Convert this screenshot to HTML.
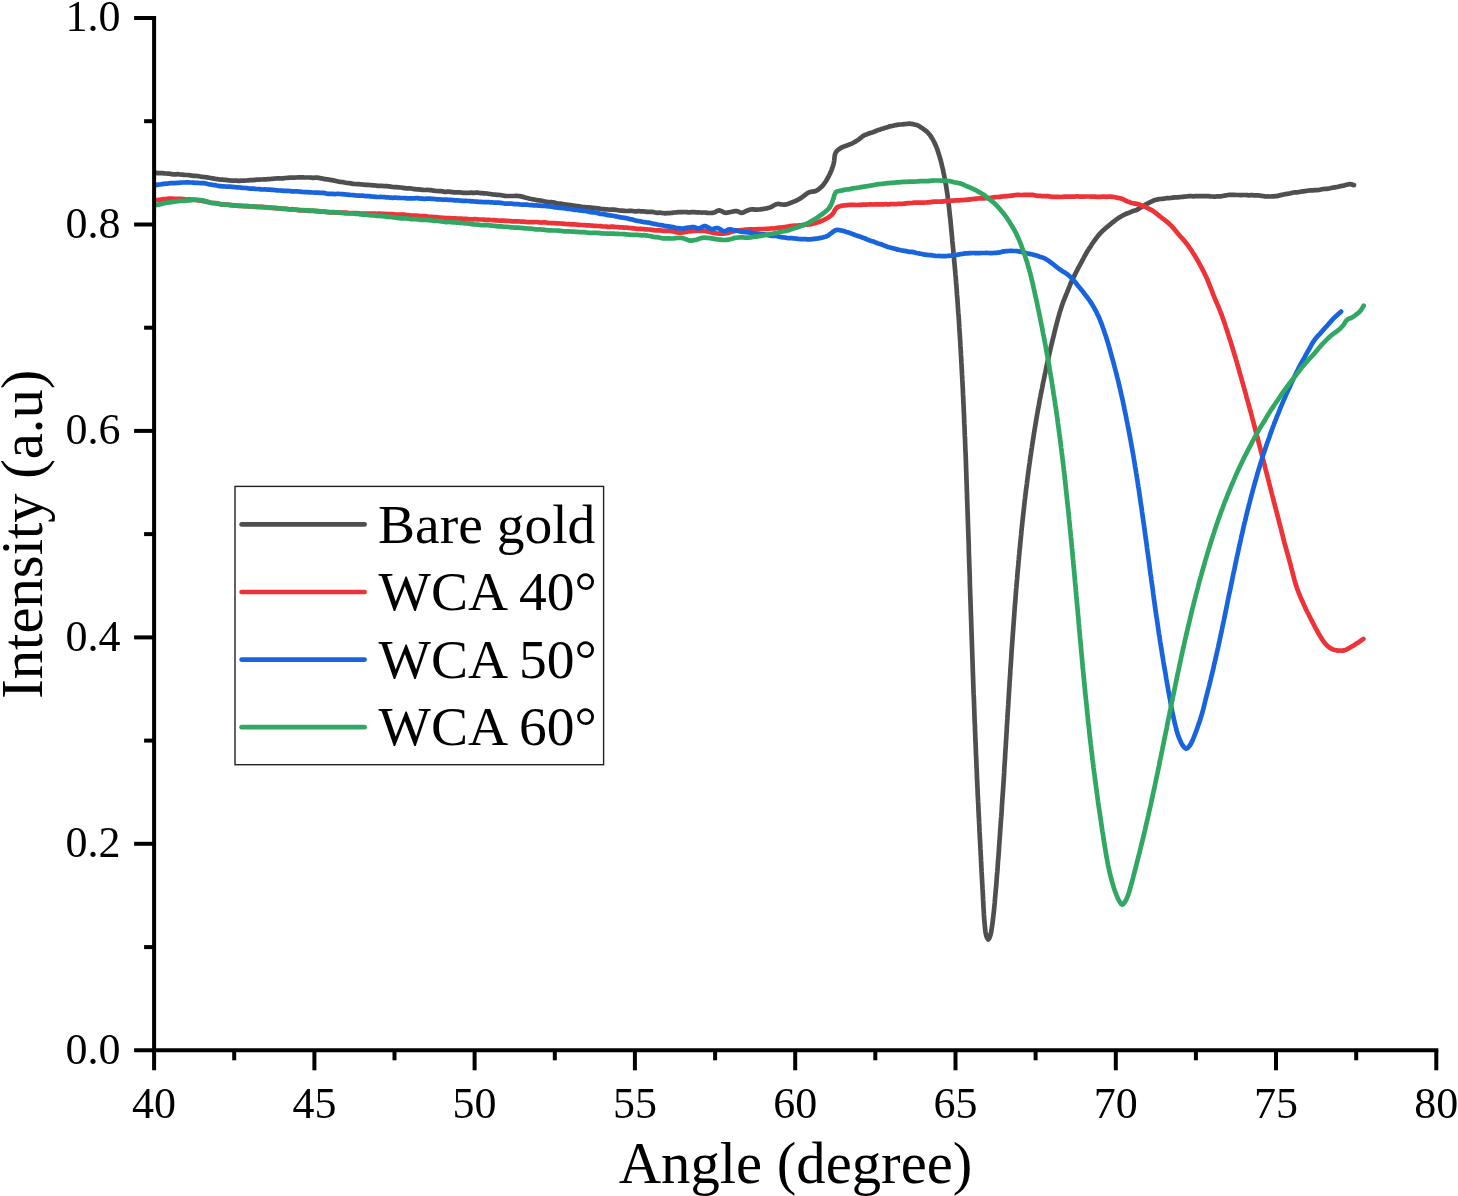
<!DOCTYPE html>
<html lang="en"><head><meta charset="utf-8"><title>SPR intensity vs angle</title>
<style>
html,body{margin:0;padding:0;background:#fff;}
body{width:1458px;height:1196px;overflow:hidden;}
svg{display:block;will-change:transform;}
text{font-family:"Liberation Serif",serif;fill:#000;}
.tk{font-size:44.0px;}
.ti{font-size:58.7px;}
.lg{font-size:55.5px;}
.ax{stroke:#000;stroke-width:4.0;fill:none;stroke-linecap:butt;}
.ln{fill:none;stroke-width:4.7;stroke-linecap:round;stroke-linejoin:round;}
</style></head><body>
<svg width="1458" height="1196" viewBox="0 0 1458 1196">
<rect width="1458" height="1196" fill="#fff"/>
<g class="ln">
<path stroke="#4f4f4f" d="M155.5 172.8L156.5 172.9L157.5 173.1L158.5 173.1L159.5 173.2L160.5 173.1L161.5 173.1L162.5 173.2L163.5 173.3L164.5 173.4L165.5 173.5L166.5 173.5L167.5 173.6L168.5 173.6L169.5 173.7L170.5 173.9L171.5 174.1L172.5 174.3L173.5 174.3L174.4 174.4L175.4 174.3L176.4 174.3L177.4 174.2L178.4 174.2L179.4 174.4L180.4 174.5L181.4 174.6L182.4 174.7L183.3 174.8L184.3 174.9L185.3 175.0L186.3 175.0L187.3 175.0L188.2 175.0L189.2 175.2L190.2 175.3L191.2 175.5L192.1 175.7L193.1 175.8L194.1 175.9L195.1 175.9L196.0 175.9L197.0 176.0L198.0 176.1L199.0 176.3L200.0 176.5L201.0 176.7L202.0 176.8L203.0 177.0L204.0 177.0L205.0 177.1L206.0 177.2L207.1 177.4L208.1 177.6L209.1 177.8L210.1 178.0L211.1 178.1L212.0 178.3L213.0 178.4L214.0 178.6L214.9 178.8L215.9 179.0L216.8 179.1L217.7 179.2L218.6 179.3L219.7 179.5L220.7 179.6L221.7 179.7L222.7 179.7L223.7 179.8L224.7 179.8L225.6 179.9L226.6 180.1L227.5 180.2L228.5 180.3L229.4 180.4L230.4 180.5L231.3 180.6L232.3 180.6L233.3 180.6L234.2 180.6L235.2 180.6L236.1 180.7L237.1 180.7L238.0 180.8L239.0 180.8L239.9 180.8L240.9 180.7L241.9 180.7L242.9 180.6L243.9 180.6L244.9 180.6L246.0 180.5L246.9 180.5L247.8 180.4L248.7 180.3L249.7 180.2L250.6 180.2L251.6 180.2L252.6 180.2L253.5 180.1L254.5 179.9L255.5 179.8L256.5 179.7L257.6 179.7L258.6 179.6L259.6 179.6L260.6 179.5L261.6 179.5L262.6 179.5L263.6 179.4L264.6 179.4L265.6 179.3L266.6 179.3L267.6 179.2L268.6 179.2L269.6 179.1L270.6 179.0L271.6 178.9L272.7 178.8L273.7 178.6L274.7 178.6L275.8 178.5L276.8 178.4L277.8 178.3L278.8 178.3L279.8 178.4L280.8 178.5L281.8 178.4L282.7 178.4L283.7 178.3L284.6 178.1L285.5 178.0L286.4 178.0L287.2 177.9L288.3 177.8L289.3 177.7L290.3 177.7L291.2 177.7L292.2 177.7L293.1 177.7L294.0 177.6L294.9 177.6L295.9 177.5L297.0 177.5L298.1 177.4L298.9 177.4L299.8 177.4L300.6 177.4L301.6 177.4L302.5 177.4L303.5 177.4L304.5 177.5L305.5 177.5L306.5 177.5L307.5 177.5L308.6 177.5L309.6 177.5L310.7 177.6L311.8 177.7L312.8 177.8L313.8 177.8L314.9 177.7L315.9 177.7L316.9 177.7L317.9 177.7L318.8 177.9L319.7 178.1L320.6 178.3L321.5 178.4L322.6 178.6L323.7 178.9L324.7 179.1L325.7 179.2L326.6 179.3L327.6 179.4L328.6 179.5L329.5 179.8L330.4 179.9L331.4 180.1L332.3 180.2L333.2 180.4L334.2 180.6L335.2 180.8L336.2 181.1L337.1 181.3L338.0 181.5L338.9 181.7L339.8 181.8L340.7 181.9L341.6 182.0L342.6 182.1L343.5 182.3L344.5 182.5L345.5 182.7L346.5 182.9L347.6 183.0L348.8 183.1L350.0 183.2L350.7 183.3L351.5 183.5L352.3 183.8L353.1 183.9L353.9 184.0L354.8 184.0L355.7 184.0L356.6 184.1L357.5 184.2L358.4 184.2L359.3 184.2L360.3 184.3L361.2 184.4L362.2 184.5L363.2 184.6L364.2 184.7L365.2 184.8L366.2 184.8L367.2 184.9L368.3 184.9L369.3 185.0L370.4 185.1L371.4 185.2L372.5 185.3L373.5 185.3L374.6 185.4L375.6 185.5L376.7 185.7L377.8 185.8L378.8 185.8L379.9 185.8L380.9 185.8L382.0 185.8L383.1 186.0L384.1 186.1L385.1 186.2L386.2 186.2L387.2 186.2L388.2 186.3L389.2 186.4L390.2 186.6L391.2 186.7L392.2 186.9L393.2 187.0L394.2 187.1L395.2 187.1L396.1 187.2L397.1 187.2L398.1 187.3L399.2 187.4L400.2 187.5L401.2 187.5L402.2 187.7L403.2 187.9L404.2 188.1L405.2 188.2L406.2 188.3L407.2 188.4L408.2 188.4L409.3 188.4L410.3 188.4L411.3 188.5L412.3 188.7L413.3 188.9L414.3 189.1L415.3 189.2L416.3 189.3L417.2 189.3L418.2 189.3L419.2 189.4L420.2 189.6L421.2 189.7L422.1 189.8L423.1 189.9L424.0 190.0L425.0 190.0L425.9 190.0L426.9 189.9L427.8 189.9L428.7 190.0L429.6 190.1L430.5 190.1L431.4 190.2L432.3 190.4L433.4 190.6L434.4 190.7L435.5 190.9L436.5 191.0L437.5 191.0L438.5 191.1L439.5 191.0L440.5 191.1L441.5 191.2L442.5 191.4L443.5 191.6L444.4 191.8L445.4 191.8L446.3 191.8L447.3 191.7L448.2 191.6L449.2 191.7L450.1 191.8L451.1 191.9L452.0 192.1L453.0 192.2L453.9 192.3L454.9 192.4L455.8 192.4L456.8 192.4L457.8 192.4L458.7 192.4L459.7 192.4L460.7 192.5L461.7 192.6L462.7 192.8L463.7 192.9L464.7 192.9L465.7 192.9L466.7 192.9L467.7 192.9L468.7 192.8L469.7 192.8L470.7 192.7L471.7 192.7L472.7 192.8L473.7 192.9L474.7 192.8L475.7 192.7L476.7 192.7L477.7 192.7L478.7 192.8L479.6 193.0L480.6 193.1L481.6 193.1L482.5 193.2L483.5 193.3L484.4 193.4L485.4 193.4L486.3 193.5L487.2 193.5L488.3 193.7L489.3 193.9L490.4 194.0L491.4 194.2L492.5 194.4L493.5 194.5L494.5 194.6L495.6 194.7L496.6 194.8L497.6 194.8L498.6 194.9L499.6 195.0L500.6 195.1L501.5 195.3L502.5 195.5L503.4 195.6L504.3 195.8L505.2 195.9L506.1 196.0L506.9 196.0L507.7 196.0L508.8 196.0L509.8 196.0L510.8 196.0L511.7 196.0L512.6 196.0L513.5 196.0L514.4 196.0L515.3 195.9L516.3 195.9L517.4 195.9L518.3 196.0L519.2 196.1L520.1 196.2L521.0 196.4L522.0 196.6L523.0 196.9L524.0 197.1L525.0 197.4L526.1 197.7L527.1 198.0L528.2 198.3L529.2 198.6L530.2 198.8L531.2 199.0L532.3 199.2L533.3 199.4L534.2 199.6L535.2 199.8L536.2 200.0L537.2 200.2L538.1 200.3L539.1 200.4L540.0 200.5L540.9 200.6L541.8 200.8L542.8 201.0L543.7 201.2L544.7 201.5L545.6 201.8L546.7 201.9L547.7 202.1L548.8 202.2L550.0 202.3L550.8 202.2L551.6 202.2L552.4 202.3L553.3 202.4L554.2 202.6L555.0 202.8L555.9 203.1L556.9 203.4L557.8 203.6L558.8 203.7L559.7 203.7L560.7 203.7L561.7 203.8L562.7 204.0L563.7 204.2L564.7 204.4L565.7 204.6L566.8 204.7L567.8 204.8L568.8 204.9L569.9 205.0L570.9 205.2L572.0 205.3L573.0 205.5L574.1 205.7L575.1 205.8L576.2 206.0L577.2 206.1L578.2 206.2L579.3 206.3L580.3 206.5L581.3 206.7L582.3 206.9L583.3 207.0L584.3 207.1L585.3 207.2L586.3 207.3L587.2 207.4L588.2 207.4L589.2 207.4L590.2 207.5L591.2 207.6L592.2 207.8L593.2 207.9L594.2 208.1L595.2 208.2L596.2 208.2L597.2 208.3L598.2 208.4L599.2 208.6L600.2 208.8L601.2 209.0L602.2 209.1L603.2 209.2L604.2 209.2L605.1 209.3L606.1 209.3L607.1 209.4L608.1 209.5L609.1 209.6L610.0 209.7L611.0 209.7L612.0 209.7L612.9 209.7L613.9 209.7L614.8 209.8L615.8 209.9L616.7 210.0L617.7 210.2L618.6 210.4L619.6 210.5L620.7 210.6L621.7 210.7L622.7 210.7L623.7 210.8L624.7 210.9L625.8 211.0L626.8 211.0L627.8 211.0L628.8 210.9L629.8 210.9L630.8 210.9L631.7 210.9L632.7 211.0L633.7 211.2L634.7 211.3L635.7 211.3L636.6 211.3L637.6 211.2L638.5 211.1L639.5 211.2L640.4 211.3L641.4 211.4L642.3 211.4L643.2 211.4L644.2 211.5L645.1 211.6L646.0 211.7L647.0 211.8L648.1 211.9L649.1 211.9L650.2 211.9L651.2 211.9L652.2 211.9L653.2 212.0L654.3 212.3L655.3 212.5L656.3 212.7L657.2 212.8L658.2 212.8L659.2 212.7L660.2 212.7L661.1 212.8L662.0 213.0L663.0 213.1L663.9 213.2L664.8 213.3L665.7 213.3L666.6 213.2L667.7 213.1L668.7 213.1L669.6 213.1L670.6 213.0L671.5 212.9L672.4 212.8L673.3 212.6L674.2 212.5L675.2 212.5L676.1 212.4L677.1 212.3L678.1 212.2L679.2 212.1L680.3 212.1L681.1 212.2L682.0 212.2L682.9 212.1L683.9 212.0L684.9 212.0L685.9 212.1L687.0 212.2L688.1 212.3L689.2 212.3L690.3 212.3L691.4 212.2L692.5 212.2L693.6 212.2L694.7 212.2L695.9 212.3L697.0 212.3L698.0 212.4L699.1 212.4L700.2 212.5L701.2 212.5L702.1 212.6L703.1 212.5L704.0 212.5L704.9 212.5L705.7 212.6L706.4 212.7L707.2 212.8L707.8 212.9L709.0 213.0L710.0 213.0L710.9 213.0L711.8 212.9L712.6 212.8L713.5 212.7L714.4 212.5L715.2 212.1L716.1 211.6L716.9 211.1L717.8 210.7L718.7 210.4L719.6 210.4L720.5 210.7L721.5 211.1L722.5 211.7L723.5 212.2L724.5 212.6L725.6 212.8L726.5 212.8L727.5 212.6L728.5 212.4L729.6 212.2L730.6 212.0L731.7 211.8L732.8 211.5L733.8 211.3L734.8 211.2L735.7 211.2L736.6 211.2L737.6 211.3L738.5 211.7L739.4 212.1L740.2 212.5L741.1 212.8L742.0 212.8L742.9 212.6L743.9 212.2L744.9 211.7L745.9 211.2L747.0 210.7L748.0 210.3L749.0 209.9L750.0 209.6L751.0 209.5L751.9 209.4L752.9 209.3L753.8 209.4L754.8 209.6L755.8 209.7L756.9 209.7L757.8 209.6L758.7 209.5L759.7 209.5L760.7 209.3L761.7 209.2L762.8 209.0L763.8 208.8L764.8 208.7L765.8 208.5L766.8 208.4L767.8 208.1L768.8 207.8L769.8 207.5L770.8 207.1L771.8 206.6L772.7 206.1L773.7 205.5L774.6 205.0L775.6 204.5L776.5 204.2L777.4 204.0L778.4 203.9L779.4 204.0L780.3 204.2L781.2 204.4L782.2 204.5L783.2 204.6L784.3 204.6L785.1 204.6L786.0 204.4L787.0 204.2L788.0 203.9L789.0 203.5L790.0 203.1L791.0 202.7L792.1 202.3L793.1 201.9L794.1 201.5L795.1 201.1L796.1 200.6L797.1 200.2L798.0 199.7L799.1 199.1L800.2 198.5L801.2 197.8L802.2 197.1L803.2 196.4L804.2 195.6L805.2 194.8L806.2 194.1L807.1 193.4L808.1 192.8L809.0 192.4L810.0 192.0L811.0 191.8L812.0 191.7L813.0 191.6L813.9 191.4L814.9 191.3L815.8 191.0L816.8 190.4L817.9 189.8L818.9 189.0L819.9 188.3L820.8 187.5L821.8 186.6L822.7 185.6L823.8 184.2L824.9 182.7L825.9 181.2L826.9 179.5L827.9 177.8L828.8 176.1L829.6 174.5L830.6 172.3L831.5 170.1L832.3 167.9L833.1 165.7L833.7 163.5L834.2 160.6L834.5 157.6L834.9 154.8L835.7 152.5L836.4 151.5L837.3 150.6L838.2 149.8L839.3 149.0L840.5 148.1L841.2 147.7L842.0 147.3L842.8 147.0L843.8 146.6L844.7 146.3L845.7 145.9L846.8 145.5L847.8 145.1L848.9 144.7L849.9 144.3L851.0 143.9L852.0 143.5L853.0 143.0L853.9 142.5L854.8 142.0L855.6 141.4L856.6 140.8L857.6 140.2L858.5 139.6L859.3 139.0L860.1 138.4L861.0 137.7L861.9 136.9L862.8 136.2L863.9 135.5L864.7 135.1L865.6 134.8L866.4 134.5L867.4 134.1L868.3 133.7L869.3 133.3L870.3 133.0L871.3 132.7L872.3 132.4L873.3 132.1L874.4 131.6L875.4 131.2L876.4 130.8L877.4 130.4L878.4 130.0L879.4 129.7L880.3 129.4L881.3 129.1L882.3 128.8L883.3 128.5L884.3 128.1L885.3 127.8L886.3 127.6L887.3 127.3L888.3 126.9L889.2 126.6L890.2 126.3L891.2 126.2L892.1 126.0L893.1 125.8L894.0 125.5L895.0 125.3L896.1 125.1L897.1 124.9L898.1 124.7L899.1 124.6L900.1 124.5L901.1 124.5L902.1 124.4L903.1 124.3L904.0 124.2L905.0 124.1L906.0 124.0L907.0 123.9L908.0 123.8L908.9 123.7L909.9 123.7L910.9 123.8L911.8 123.9L912.8 124.1L913.7 124.3L914.6 124.6L915.6 124.8L916.5 125.0L917.5 125.3L918.4 125.8L919.3 126.3L920.2 126.9L921.1 127.5L922.0 128.1L922.8 128.6L923.9 129.4L924.9 130.1L925.9 130.9L926.9 131.7L927.9 132.7L928.8 133.7L929.7 134.8L930.8 136.2L931.7 137.7L932.7 139.2L933.5 140.8L934.4 142.5L935.2 144.3L936.2 146.5L937.1 148.8L937.9 151.3L938.7 153.8L939.5 156.4L940.3 159.0L941.0 161.5L941.6 164.0L942.2 166.6L942.9 169.3L943.4 172.0L944.0 174.7L944.5 177.4L945.0 180.1L945.5 182.7L946.0 185.3L946.4 187.9L946.8 190.4L947.2 193.1L947.6 195.9L948.0 198.8L948.4 201.8L948.7 204.4L949.0 207.1L949.3 210.0L949.6 212.9L949.9 215.9L950.3 219.0L950.6 222.1L950.9 225.3L951.2 228.5L951.5 231.6L951.8 234.7L952.1 237.7L952.3 240.7L952.6 243.6L952.9 246.5L953.2 249.4L953.4 252.2L953.7 254.9L953.9 257.6L954.2 260.4L954.4 263.1L954.7 265.8L954.9 268.6L955.2 271.4L955.4 274.2L955.7 277.1L955.9 280.0L956.1 282.9L956.4 285.8L956.6 288.7L956.8 291.7L957.0 294.7L957.3 297.7L957.5 300.8L957.7 303.8L957.9 306.8L958.1 309.9L958.3 312.9L958.6 315.9L958.8 318.9L959.0 321.8L959.2 324.8L959.3 327.7L959.5 330.7L959.7 333.6L959.9 336.6L960.1 339.5L960.3 342.4L960.4 345.4L960.6 348.3L960.8 351.2L960.9 354.2L961.1 357.1L961.3 360.0L961.4 362.9L961.6 365.7L961.7 368.6L961.9 371.4L962.0 374.2L962.2 377.0L962.3 379.9L962.5 382.7L962.6 385.5L962.8 388.4L962.9 391.3L963.0 394.2L963.2 397.2L963.3 400.2L963.4 403.0L963.6 405.8L963.7 408.7L963.8 411.6L964.0 414.5L964.1 417.5L964.2 420.4L964.3 423.4L964.5 426.4L964.6 429.4L964.7 432.4L964.8 435.4L965.0 438.4L965.1 441.4L965.2 444.4L965.3 447.3L965.4 450.3L965.6 453.3L965.7 456.2L965.8 459.2L965.9 462.1L966.0 465.1L966.1 468.0L966.2 471.0L966.3 473.9L966.4 476.9L966.5 479.9L966.6 482.8L966.7 485.8L966.8 488.7L966.9 491.7L967.0 494.6L967.1 497.6L967.2 500.5L967.3 503.4L967.4 506.4L967.5 509.3L967.6 512.3L967.7 515.2L967.8 518.2L967.9 521.2L968.0 524.1L968.1 527.1L968.2 530.0L968.3 532.9L968.4 535.8L968.5 538.7L968.6 541.6L968.7 544.4L968.8 547.2L968.8 550.0L968.9 553.0L969.0 555.9L969.1 558.8L969.2 561.7L969.3 564.5L969.4 567.3L969.5 570.1L969.6 572.9L969.7 575.7L969.8 578.5L969.8 581.4L969.9 584.3L970.0 587.2L970.1 590.2L970.2 593.0L970.3 595.9L970.4 598.7L970.5 601.6L970.6 604.5L970.7 607.5L970.8 610.4L970.9 613.4L971.0 616.4L971.1 619.4L971.2 622.4L971.3 625.4L971.4 628.4L971.5 631.4L971.6 634.4L971.7 637.3L971.8 640.3L971.9 643.3L972.0 646.2L972.1 649.2L972.2 652.1L972.3 655.1L972.4 658.0L972.5 661.0L972.6 663.9L972.7 666.9L972.8 669.9L972.9 672.8L973.0 675.8L973.1 678.7L973.2 681.7L973.3 684.6L973.4 687.6L973.5 690.5L973.6 693.4L973.8 696.3L973.9 699.3L974.0 702.2L974.1 705.1L974.2 708.0L974.3 710.9L974.4 713.9L974.5 716.8L974.6 719.7L974.7 722.6L974.9 725.5L975.0 728.4L975.1 731.3L975.2 734.2L975.3 737.1L975.4 740.0L975.6 743.0L975.7 746.0L975.8 748.9L975.9 751.9L976.0 754.8L976.2 757.8L976.3 760.7L976.4 763.6L976.5 766.6L976.7 769.5L976.8 772.5L976.9 775.5L977.0 778.5L977.2 781.5L977.3 784.6L977.5 787.7L977.6 790.5L977.7 793.3L977.8 796.1L978.0 799.0L978.1 801.9L978.3 804.8L978.4 807.7L978.5 810.6L978.7 813.6L978.8 816.5L979.0 819.5L979.1 822.4L979.3 825.4L979.4 828.3L979.5 831.2L979.7 834.1L979.8 837.0L980.0 839.8L980.1 842.6L980.3 845.4L980.4 848.4L980.6 851.3L980.7 854.3L980.9 857.3L981.0 860.2L981.2 863.2L981.3 866.1L981.5 869.0L981.6 871.9L981.8 874.8L981.9 877.6L982.1 880.4L982.2 883.1L982.4 885.8L982.5 888.4L982.7 891.0L982.8 893.5L983.0 896.7L983.1 899.9L983.3 903.0L983.4 906.1L983.6 909.0L983.8 911.9L983.9 914.7L984.1 917.3L984.3 919.9L984.5 922.3L984.8 925.5L985.1 928.5L985.4 931.3L985.8 933.8L986.3 935.8L987.3 938.3L988.3 939.5L989.3 938.3L990.2 935.8L990.8 933.8L991.3 931.3L991.7 928.5L992.2 925.5L992.6 922.3L992.9 919.9L993.2 917.3L993.5 914.7L993.8 911.9L994.1 909.0L994.4 906.1L994.7 903.0L994.9 899.9L995.2 896.7L995.5 893.5L995.7 891.0L995.9 888.4L996.2 885.8L996.4 883.1L996.6 880.4L996.8 877.6L997.0 874.8L997.3 871.9L997.5 869.0L997.7 866.1L997.9 863.2L998.1 860.2L998.4 857.3L998.6 854.3L998.8 851.3L999.0 848.4L999.2 845.4L999.4 842.6L999.6 839.8L999.8 837.0L1000.0 834.1L1000.2 831.2L1000.4 828.3L1000.6 825.4L1000.8 822.5L1001.0 819.5L1001.3 816.5L1001.5 813.6L1001.7 810.6L1001.8 807.7L1002.0 804.8L1002.2 801.8L1002.4 799.0L1002.6 796.1L1002.8 793.3L1003.0 790.5L1003.2 787.7L1003.4 784.6L1003.6 781.5L1003.8 778.3L1004.0 775.3L1004.2 772.2L1004.3 769.1L1004.5 766.0L1004.7 763.0L1004.9 760.0L1005.1 757.0L1005.2 754.1L1005.4 751.2L1005.6 748.3L1005.8 745.5L1005.9 742.7L1006.1 740.0L1006.3 736.8L1006.5 733.7L1006.7 730.6L1006.8 727.6L1007.0 724.7L1007.2 721.8L1007.4 718.9L1007.5 716.0L1007.7 713.1L1007.9 710.2L1008.1 707.2L1008.3 704.4L1008.4 701.6L1008.6 698.9L1008.8 696.1L1008.9 693.3L1009.1 690.5L1009.3 687.7L1009.5 685.0L1009.6 682.2L1009.8 679.4L1010.0 676.6L1010.2 673.8L1010.3 671.0L1010.5 668.2L1010.7 665.4L1010.9 662.6L1011.1 659.8L1011.3 657.0L1011.4 654.3L1011.6 651.5L1011.8 648.7L1012.0 645.9L1012.2 643.1L1012.4 640.3L1012.6 637.5L1012.8 634.7L1013.0 631.9L1013.2 629.2L1013.4 626.4L1013.6 623.6L1013.8 620.8L1014.0 618.0L1014.2 615.3L1014.4 612.5L1014.6 609.7L1014.8 606.9L1015.0 604.1L1015.3 601.3L1015.5 598.5L1015.7 595.7L1015.9 592.9L1016.1 590.0L1016.4 587.2L1016.6 584.4L1016.8 581.7L1017.1 578.9L1017.3 576.1L1017.5 573.4L1017.8 570.6L1018.0 567.7L1018.3 564.9L1018.5 562.1L1018.8 559.2L1019.0 556.4L1019.3 553.7L1019.5 550.9L1019.8 548.2L1020.1 545.6L1020.3 543.0L1020.6 540.0L1020.9 537.1L1021.2 534.2L1021.4 531.4L1021.7 528.7L1022.0 525.8L1022.3 523.0L1022.6 520.0L1022.9 517.4L1023.2 514.7L1023.5 512.0L1023.8 509.3L1024.1 506.6L1024.4 503.8L1024.7 501.0L1025.1 498.1L1025.4 495.1L1025.8 492.1L1026.1 489.4L1026.5 486.6L1026.9 483.7L1027.2 480.8L1027.6 477.8L1028.0 474.8L1028.4 471.7L1028.8 468.7L1029.2 465.6L1029.7 462.5L1030.1 459.4L1030.5 456.4L1031.0 453.3L1031.4 450.3L1031.9 447.3L1032.3 444.3L1032.8 441.2L1033.3 438.2L1033.7 435.1L1034.2 432.1L1034.7 429.1L1035.2 426.1L1035.7 423.1L1036.2 420.1L1036.7 417.1L1037.2 414.2L1037.7 411.3L1038.2 408.5L1038.8 405.5L1039.3 402.6L1039.8 399.6L1040.4 396.7L1040.9 393.9L1041.5 391.0L1042.1 388.2L1042.6 385.5L1043.1 382.8L1043.7 380.2L1044.2 377.6L1044.7 375.1L1045.4 372.0L1046.0 369.0L1046.6 366.2L1047.2 363.4L1047.8 360.7L1048.4 357.9L1049.1 355.0L1049.7 352.2L1050.4 349.3L1051.1 346.3L1051.8 343.4L1052.5 340.5L1053.2 337.6L1053.9 334.9L1054.5 332.3L1055.2 329.4L1055.9 326.6L1056.6 324.0L1057.3 321.3L1058.0 318.6L1058.8 315.8L1059.6 312.9L1060.5 310.1L1061.4 307.3L1062.3 304.5L1063.1 302.2L1064.0 300.0L1064.9 297.7L1065.8 295.5L1066.7 293.4L1067.6 291.2L1068.5 288.9L1069.4 286.7L1070.3 284.4L1071.2 282.2L1072.3 279.8L1073.1 278.1L1074.0 276.4L1074.9 274.6L1075.8 272.8L1076.8 270.9L1077.7 269.0L1078.7 267.2L1079.7 265.4L1080.6 263.7L1081.6 261.9L1082.5 260.1L1083.5 258.3L1084.4 256.5L1085.4 254.8L1086.4 253.0L1087.4 251.2L1088.5 249.5L1089.4 248.1L1090.3 246.8L1091.2 245.4L1092.1 243.9L1093.1 242.5L1094.1 241.1L1095.1 239.8L1096.1 238.4L1097.1 237.1L1098.1 235.8L1099.0 234.7L1100.0 233.6L1100.9 232.6L1101.9 231.6L1102.8 230.7L1103.7 229.9L1104.7 229.1L1105.6 228.2L1106.5 227.4L1107.5 226.7L1108.4 225.9L1109.3 225.2L1110.2 224.4L1111.1 223.7L1111.9 223.0L1112.8 222.2L1113.8 221.5L1114.7 220.8L1115.7 220.0L1116.7 219.2L1117.6 218.6L1118.5 218.0L1119.4 217.4L1120.4 216.9L1121.4 216.3L1122.4 215.7L1123.5 215.2L1124.5 214.6L1125.5 214.1L1126.5 213.7L1127.5 213.3L1128.4 213.0L1129.3 212.6L1130.3 212.2L1131.2 211.8L1132.2 211.4L1133.1 211.1L1134.0 210.8L1134.9 210.5L1135.8 210.3L1136.7 209.9L1137.6 209.5L1138.5 208.9L1139.5 208.3L1140.4 207.8L1141.3 207.3L1142.3 206.7L1143.2 206.1L1144.1 205.6L1145.1 204.9L1146.0 204.3L1146.9 203.8L1147.8 203.4L1148.7 202.9L1149.7 202.5L1150.6 202.0L1151.5 201.5L1152.4 201.1L1153.4 200.6L1154.3 200.3L1155.2 200.0L1156.1 199.8L1157.0 199.6L1157.9 199.3L1158.8 199.2L1159.8 199.0L1160.7 199.0L1161.7 198.9L1162.7 198.8L1163.6 198.7L1164.5 198.5L1165.4 198.4L1166.3 198.2L1167.3 198.2L1168.2 198.2L1169.2 198.1L1170.2 198.0L1171.2 197.9L1172.2 197.7L1173.2 197.6L1174.3 197.4L1175.3 197.3L1176.2 197.3L1177.2 197.3L1178.1 197.3L1179.1 197.2L1180.0 197.1L1181.0 197.0L1182.0 196.9L1183.0 196.8L1184.0 196.7L1185.0 196.6L1186.0 196.5L1187.0 196.4L1188.0 196.2L1189.0 196.2L1190.0 196.2L1191.0 196.2L1192.0 196.2L1193.0 196.3L1194.0 196.3L1195.0 196.2L1196.1 196.1L1197.1 196.1L1198.2 196.1L1199.3 196.1L1200.3 196.2L1201.3 196.2L1202.4 196.2L1203.4 196.2L1204.3 196.2L1205.3 196.2L1206.2 196.2L1207.1 196.2L1207.9 196.2L1208.7 196.2L1209.8 196.3L1210.7 196.4L1211.6 196.5L1212.4 196.5L1213.3 196.6L1214.2 196.6L1215.3 196.6L1216.1 196.5L1217.0 196.4L1217.8 196.3L1218.8 196.3L1219.7 196.3L1220.7 196.3L1221.6 196.2L1222.7 196.0L1223.7 195.8L1224.8 195.6L1225.8 195.4L1226.9 195.2L1228.0 195.0L1229.2 194.9L1230.3 194.9L1231.2 194.9L1232.1 194.8L1233.0 194.8L1233.9 194.8L1234.9 194.9L1235.9 195.0L1236.9 195.0L1237.9 195.0L1238.9 195.0L1240.0 195.1L1241.0 195.1L1242.1 195.1L1243.2 195.0L1244.2 195.0L1245.3 195.0L1246.4 195.1L1247.4 195.2L1248.5 195.3L1249.5 195.3L1250.5 195.2L1251.5 195.2L1252.5 195.2L1253.5 195.3L1254.4 195.4L1255.3 195.4L1256.2 195.4L1257.1 195.4L1258.2 195.4L1259.3 195.5L1260.4 195.7L1261.4 195.8L1262.4 196.0L1263.3 196.1L1264.3 196.3L1265.3 196.4L1266.2 196.5L1267.2 196.5L1268.1 196.4L1269.1 196.5L1270.1 196.5L1271.1 196.5L1272.1 196.4L1273.0 196.3L1274.0 196.3L1274.9 196.2L1275.9 196.2L1276.8 196.1L1277.8 195.9L1278.8 195.6L1279.8 195.4L1280.7 195.1L1281.7 194.9L1282.7 194.7L1283.7 194.6L1284.7 194.3L1285.7 194.1L1286.6 193.9L1287.6 193.8L1288.6 193.7L1289.5 193.5L1290.5 193.3L1291.5 193.0L1292.5 192.7L1293.5 192.5L1294.5 192.4L1295.5 192.4L1296.4 192.4L1297.4 192.3L1298.4 192.1L1299.4 192.0L1300.4 191.8L1301.3 191.6L1302.3 191.4L1303.3 191.3L1304.3 191.2L1305.2 191.1L1306.2 191.0L1307.2 190.8L1308.2 190.6L1309.2 190.5L1310.1 190.4L1311.1 190.4L1312.1 190.4L1313.1 190.3L1314.1 190.2L1315.1 190.2L1316.0 190.1L1317.0 190.1L1318.0 190.0L1319.0 189.9L1320.0 189.7L1321.0 189.5L1321.9 189.3L1322.9 189.1L1323.9 189.0L1324.9 188.9L1325.9 188.9L1326.9 188.8L1328.0 188.7L1329.0 188.5L1330.1 188.3L1331.1 188.0L1332.2 187.8L1333.2 187.6L1334.2 187.4L1335.2 187.3L1336.2 187.2L1337.2 187.0L1338.1 186.8L1339.0 186.6L1339.9 186.3L1340.7 186.1L1341.8 185.9L1342.8 185.8L1343.8 185.6L1344.7 185.3L1345.6 185.0L1346.5 184.8L1347.4 184.5L1348.2 184.4L1349.0 184.2L1350.1 184.2L1351.1 184.3L1352.1 184.6L1353.0 184.9L1354.0 185.1"/>
<path stroke="#ee3338" d="M155.5 200.2L156.4 200.2L157.4 200.1L158.3 200.0L159.3 199.8L160.2 199.7L161.2 199.5L162.1 199.3L163.1 199.2L164.0 199.1L165.0 199.0L165.9 199.0L166.9 198.9L167.8 198.8L168.7 198.7L169.7 198.7L170.6 198.6L171.6 198.7L172.6 198.7L173.6 198.8L174.5 198.8L175.5 198.8L176.5 198.8L177.4 198.8L178.4 198.8L179.4 198.8L180.4 198.8L181.3 198.9L182.3 199.0L183.3 199.1L184.3 199.2L185.2 199.4L186.2 199.5L187.1 199.5L188.1 199.4L189.0 199.4L190.0 199.4L190.9 199.5L191.9 199.5L192.9 199.6L193.8 199.7L194.8 199.7L195.7 199.9L196.7 200.0L197.6 200.2L198.5 200.4L199.4 200.4L200.4 200.5L201.3 200.7L202.3 200.9L203.2 201.1L204.1 201.2L205.0 201.4L205.9 201.6L206.8 201.8L207.7 202.1L208.7 202.3L209.6 202.5L210.7 202.7L211.7 202.9L212.6 203.0L213.4 203.0L214.3 203.0L215.2 203.0L216.2 203.2L217.1 203.3L218.1 203.5L219.0 203.8L220.0 204.0L221.0 204.2L222.0 204.3L223.0 204.5L224.0 204.5L225.0 204.5L226.0 204.6L227.1 204.7L228.1 204.7L229.2 204.8L230.2 205.0L231.2 205.1L232.3 205.2L233.2 205.3L234.1 205.3L235.1 205.4L236.0 205.5L237.0 205.7L237.9 205.8L238.9 205.8L239.8 205.8L240.8 205.8L241.8 205.9L242.8 206.0L243.8 206.1L244.8 206.2L245.7 206.2L246.7 206.2L247.7 206.2L248.7 206.2L249.7 206.3L250.8 206.4L251.8 206.5L252.8 206.6L253.8 206.7L254.8 206.8L255.7 206.8L256.7 206.8L257.7 206.8L258.7 206.8L259.7 206.7L260.7 206.8L261.7 206.8L262.6 206.9L263.6 207.0L264.6 207.0L265.5 207.2L266.5 207.3L267.5 207.5L268.4 207.5L269.4 207.6L270.4 207.7L271.3 207.7L272.3 207.9L273.3 208.0L274.2 208.1L275.2 208.2L276.2 208.3L277.2 208.4L278.1 208.5L279.1 208.5L280.1 208.6L281.1 208.7L282.1 208.8L283.1 208.9L284.1 208.9L285.1 208.8L286.2 208.9L287.2 209.0L288.1 209.1L289.1 209.3L290.0 209.3L291.0 209.3L291.9 209.2L292.9 209.3L293.9 209.4L294.8 209.5L295.8 209.7L296.8 210.0L297.8 210.1L298.8 210.2L299.8 210.3L300.8 210.3L301.8 210.3L302.8 210.3L303.8 210.4L304.8 210.4L305.8 210.5L306.8 210.6L307.8 210.7L308.8 210.9L309.8 210.9L310.8 210.9L311.8 210.8L312.8 210.9L313.8 211.0L314.8 211.1L315.8 211.2L316.7 211.2L317.7 211.3L318.7 211.4L319.6 211.4L320.6 211.4L321.5 211.4L322.5 211.5L323.5 211.5L324.5 211.6L325.5 211.7L326.5 211.9L327.5 212.1L328.4 212.2L329.4 212.3L330.4 212.4L331.3 212.4L332.3 212.4L333.2 212.3L334.2 212.4L335.1 212.5L336.1 212.6L337.0 212.7L338.0 212.7L338.9 212.7L339.9 212.7L340.9 212.7L341.8 212.7L342.8 212.6L343.8 212.6L344.8 212.5L345.8 212.6L346.8 212.7L347.9 212.9L348.9 213.0L350.0 213.1L350.9 213.1L351.8 213.1L352.7 213.2L353.6 213.2L354.6 213.2L355.5 213.2L356.4 213.2L357.4 213.2L358.3 213.3L359.3 213.4L360.3 213.5L361.2 213.6L362.2 213.6L363.2 213.5L364.2 213.5L365.1 213.6L366.1 213.6L367.1 213.5L368.1 213.6L369.1 213.6L370.1 213.7L371.1 213.7L372.1 213.6L373.2 213.6L374.2 213.7L375.2 213.7L376.2 213.8L377.2 213.8L378.2 213.7L379.2 213.6L380.2 213.7L381.2 213.8L382.2 213.8L383.2 213.8L384.3 213.8L385.3 213.9L386.3 214.0L387.2 214.1L388.2 214.2L389.2 214.2L390.2 214.2L391.2 214.2L392.2 214.2L393.2 214.3L394.1 214.4L395.1 214.5L396.1 214.6L397.1 214.6L398.1 214.6L399.0 214.6L400.0 214.7L401.0 214.7L402.0 214.6L402.9 214.6L403.9 214.7L404.9 214.7L405.9 214.9L406.9 215.0L407.8 215.1L408.8 215.3L409.8 215.4L410.8 215.5L411.8 215.6L412.7 215.6L413.7 215.6L414.7 215.6L415.7 215.6L416.6 215.7L417.6 215.8L418.6 215.9L419.6 216.0L420.6 216.1L421.5 216.2L422.5 216.2L423.5 216.2L424.5 216.2L425.4 216.3L426.4 216.4L427.4 216.6L428.4 216.8L429.4 216.9L430.3 216.9L431.3 216.9L432.3 216.9L433.3 217.0L434.3 217.0L435.2 217.1L436.2 217.1L437.2 217.3L438.2 217.4L439.2 217.5L440.1 217.6L441.1 217.7L442.1 217.8L443.1 217.9L444.1 217.9L445.0 218.0L446.0 218.1L447.0 218.0L448.0 218.1L449.0 218.2L450.0 218.2L450.9 218.3L451.9 218.4L452.9 218.4L453.9 218.4L454.9 218.4L455.8 218.4L456.8 218.5L457.8 218.5L458.8 218.5L459.8 218.6L460.7 218.6L461.7 218.7L462.7 218.8L463.7 218.8L464.7 218.8L465.7 218.9L466.6 218.9L467.6 219.0L468.6 219.2L469.6 219.3L470.6 219.4L471.5 219.4L472.5 219.3L473.5 219.3L474.5 219.2L475.5 219.2L476.4 219.3L477.4 219.4L478.4 219.5L479.4 219.5L480.4 219.5L481.4 219.5L482.4 219.5L483.4 219.6L484.3 219.7L485.3 219.8L486.3 219.9L487.3 219.8L488.3 219.8L489.3 219.9L490.3 220.0L491.3 220.0L492.3 220.1L493.3 220.2L494.2 220.2L495.2 220.3L496.2 220.4L497.2 220.5L498.2 220.6L499.2 220.6L500.1 220.7L501.1 220.6L502.1 220.7L503.1 220.7L504.1 220.7L505.0 220.8L506.0 220.8L507.0 220.9L507.9 220.9L508.9 221.0L509.8 221.1L510.8 221.2L511.8 221.3L512.7 221.3L513.7 221.3L514.6 221.4L515.6 221.3L516.6 221.3L517.6 221.3L518.7 221.4L519.7 221.5L520.7 221.6L521.7 221.6L522.7 221.7L523.6 221.7L524.6 221.8L525.6 221.9L526.6 222.0L527.6 222.1L528.6 222.1L529.6 222.1L530.5 222.1L531.5 222.1L532.5 222.2L533.5 222.1L534.5 222.0L535.4 222.0L536.4 222.0L537.4 222.0L538.3 222.2L539.3 222.3L540.3 222.5L541.3 222.6L542.2 222.5L543.2 222.4L544.2 222.4L545.1 222.4L546.1 222.5L547.1 222.7L548.1 222.9L549.0 223.0L550.0 223.0L551.0 223.1L552.0 223.0L553.0 223.1L553.9 223.1L554.9 223.2L555.9 223.3L556.9 223.3L557.9 223.4L558.9 223.4L559.8 223.5L560.8 223.5L561.8 223.6L562.8 223.7L563.8 223.8L564.7 223.9L565.7 224.0L566.7 224.0L567.7 224.1L568.7 224.1L569.6 224.2L570.6 224.3L571.6 224.3L572.6 224.3L573.5 224.3L574.5 224.4L575.5 224.5L576.5 224.6L577.4 224.7L578.4 224.8L579.4 224.9L580.4 225.0L581.4 225.0L582.3 225.0L583.3 225.0L584.3 225.1L585.3 225.2L586.3 225.3L587.3 225.3L588.2 225.4L589.2 225.4L590.2 225.5L591.2 225.6L592.2 225.6L593.2 225.8L594.2 225.8L595.2 225.9L596.2 225.9L597.2 226.0L598.2 226.0L599.2 226.0L600.2 226.1L601.2 226.2L602.2 226.4L603.2 226.5L604.2 226.5L605.2 226.5L606.1 226.6L607.1 226.7L608.1 226.8L609.1 226.8L610.1 226.8L611.0 226.7L612.0 226.7L612.9 226.7L613.9 226.8L614.9 226.9L615.8 227.0L616.7 227.0L617.7 227.1L618.6 227.2L619.6 227.3L620.7 227.3L621.7 227.3L622.7 227.4L623.7 227.6L624.7 227.6L625.8 227.7L626.8 227.7L627.8 227.8L628.8 227.9L629.8 228.0L630.8 228.1L631.8 228.2L632.7 228.3L633.7 228.4L634.7 228.5L635.7 228.6L636.6 228.7L637.6 228.9L638.5 228.9L639.5 228.9L640.4 228.9L641.4 228.9L642.3 229.0L643.2 229.1L644.2 229.2L645.1 229.3L646.0 229.3L647.0 229.4L648.1 229.5L649.1 229.5L650.2 229.6L651.2 229.8L652.2 229.9L653.2 230.1L654.3 230.2L655.3 230.3L656.3 230.3L657.2 230.3L658.2 230.3L659.2 230.3L660.2 230.4L661.1 230.5L662.0 230.6L663.0 230.8L663.9 230.9L664.8 230.9L665.7 230.9L666.6 230.8L667.7 230.8L668.7 230.9L669.7 231.0L670.7 231.1L671.7 231.2L672.7 231.4L673.6 231.5L674.6 231.7L675.5 232.0L676.5 232.2L677.4 232.5L678.4 232.6L679.3 232.6L680.3 232.6L681.3 232.6L682.3 232.5L683.3 232.4L684.3 232.2L685.3 232.0L686.3 231.8L687.3 231.7L688.3 231.5L689.3 231.4L690.3 231.3L691.2 231.2L692.2 231.2L693.1 231.1L694.0 231.0L695.0 230.9L696.0 230.8L697.0 230.7L697.9 230.7L698.9 230.8L699.8 230.8L700.7 230.8L701.7 230.8L702.6 230.8L703.6 230.9L704.6 231.0L705.6 231.2L706.5 231.3L707.5 231.4L708.6 231.6L709.6 231.9L710.6 232.1L711.6 232.4L712.6 232.7L713.6 233.0L714.6 233.1L715.6 233.2L716.6 233.4L717.6 233.5L718.6 233.6L719.6 233.6L720.7 233.7L721.7 233.7L722.7 233.6L723.7 233.6L724.6 233.5L725.6 233.4L726.6 233.2L727.5 233.0L728.5 232.7L729.4 232.4L730.3 232.1L731.2 231.8L732.2 231.6L733.1 231.4L734.2 231.2L735.2 231.0L736.1 230.8L737.0 230.6L737.9 230.4L738.8 230.4L739.8 230.3L740.8 230.2L741.7 230.1L742.7 230.0L743.7 229.9L744.8 229.7L745.8 229.6L746.8 229.5L747.9 229.5L748.9 229.4L750.0 229.4L750.9 229.3L751.8 229.4L752.8 229.4L753.7 229.4L754.7 229.4L755.6 229.3L756.6 229.3L757.6 229.2L758.6 229.2L759.6 229.1L760.6 229.0L761.6 229.0L762.6 229.0L763.6 229.0L764.6 229.0L765.6 228.9L766.6 228.9L767.6 228.9L768.6 228.8L769.6 228.6L770.6 228.5L771.6 228.4L772.6 228.5L773.5 228.5L774.5 228.4L775.5 228.2L776.5 228.0L777.5 227.8L778.5 227.7L779.4 227.6L780.4 227.6L781.4 227.5L782.4 227.4L783.4 227.3L784.3 227.1L785.3 227.0L786.3 226.8L787.3 226.7L788.3 226.5L789.2 226.3L790.2 226.1L791.2 226.0L792.2 225.8L793.2 225.8L794.2 225.7L795.2 225.7L796.2 225.8L797.2 225.7L798.2 225.6L799.2 225.4L800.2 225.4L801.2 225.3L802.2 225.2L803.2 225.1L804.2 224.9L805.2 224.8L806.2 224.7L807.1 224.6L808.1 224.4L809.0 224.3L809.9 224.3L810.8 224.2L811.7 224.1L812.8 223.8L813.9 223.4L814.9 223.1L816.0 222.9L817.0 222.6L818.1 222.3L819.1 221.9L820.1 221.5L821.0 221.1L822.0 220.8L822.9 220.4L823.7 220.0L824.6 219.5L825.4 219.1L826.6 218.5L827.7 217.9L828.7 217.2L829.7 216.5L830.6 215.8L831.5 215.1L832.3 214.4L833.2 213.2L834.0 211.8L834.8 210.5L835.5 209.2L836.4 208.1L837.1 207.5L837.8 207.0L838.5 206.7L839.4 206.4L840.5 206.1L841.1 205.9L841.7 205.8L842.4 205.7L843.1 205.5L843.9 205.4L844.7 205.4L845.6 205.3L846.5 205.2L847.5 205.1L848.4 205.0L849.5 204.9L850.5 204.9L851.5 204.8L852.6 204.8L853.7 204.8L854.8 204.9L855.9 205.0L857.0 205.0L858.1 205.0L859.2 204.9L860.3 204.8L861.4 204.8L862.5 204.7L863.5 204.7L864.6 204.6L865.6 204.6L866.6 204.6L867.6 204.5L868.5 204.5L869.5 204.4L870.5 204.4L871.5 204.4L872.4 204.5L873.4 204.5L874.4 204.4L875.4 204.4L876.3 204.4L877.3 204.4L878.3 204.4L879.3 204.4L880.3 204.3L881.2 204.3L882.2 204.3L883.2 204.3L884.2 204.3L885.2 204.2L886.1 204.2L887.1 204.3L888.1 204.3L889.1 204.3L890.1 204.2L891.1 204.1L892.0 204.0L893.0 204.0L894.0 204.1L895.0 204.1L896.0 204.1L896.9 204.0L897.9 203.9L898.9 203.8L899.9 203.8L900.9 203.8L901.8 203.8L902.8 203.8L903.8 203.7L904.8 203.6L905.8 203.4L906.7 203.3L907.7 203.2L908.7 203.1L909.7 203.1L910.7 203.0L911.6 203.0L912.6 202.9L913.6 202.7L914.6 202.7L915.6 202.7L916.6 202.7L917.5 202.6L918.5 202.6L919.5 202.6L920.5 202.6L921.5 202.6L922.5 202.7L923.4 202.6L924.4 202.6L925.4 202.5L926.3 202.5L927.3 202.4L928.3 202.4L929.2 202.3L930.2 202.2L931.1 202.1L932.1 201.9L933.1 201.7L934.0 201.6L935.0 201.6L936.0 201.6L936.9 201.7L937.9 201.7L938.9 201.7L939.9 201.7L940.9 201.7L941.9 201.6L942.9 201.4L943.9 201.3L944.9 201.2L945.9 201.1L946.9 201.0L947.9 201.0L949.0 200.9L950.0 200.9L950.9 200.8L951.9 200.7L952.8 200.6L953.8 200.6L954.7 200.5L955.7 200.4L956.7 200.4L957.7 200.3L958.6 200.3L959.6 200.3L960.6 200.2L961.6 200.2L962.6 200.1L963.6 200.0L964.6 199.9L965.6 199.8L966.6 199.8L967.7 199.7L968.7 199.6L969.7 199.4L970.7 199.3L971.7 199.2L972.7 199.0L973.8 198.9L974.8 198.8L975.8 198.7L976.8 198.6L977.8 198.5L978.8 198.4L979.9 198.4L980.9 198.4L981.9 198.4L982.9 198.3L983.9 198.3L984.9 198.2L985.9 198.2L986.9 198.2L987.9 198.1L988.9 198.1L989.9 198.0L990.9 197.8L991.9 197.7L992.9 197.5L993.9 197.3L994.9 197.2L995.9 197.1L996.9 197.0L998.0 197.0L999.0 196.9L1000.0 196.8L1001.0 196.7L1002.0 196.6L1003.0 196.5L1004.0 196.3L1005.0 196.2L1006.0 196.2L1007.0 196.1L1008.0 196.0L1009.0 195.9L1010.0 195.8L1011.0 195.7L1012.0 195.6L1013.0 195.4L1014.0 195.3L1015.0 195.1L1016.0 195.0L1017.0 194.9L1017.9 194.9L1018.9 194.9L1019.9 195.0L1020.8 195.0L1021.8 195.0L1022.8 195.0L1023.7 194.9L1024.7 194.9L1025.7 194.9L1026.7 194.8L1027.7 194.8L1028.7 194.8L1029.7 194.8L1030.7 194.8L1031.6 194.8L1032.6 194.9L1033.6 195.1L1034.5 195.3L1035.5 195.5L1036.5 195.7L1037.4 195.8L1038.4 195.8L1039.3 195.8L1040.3 195.9L1041.2 196.0L1042.2 196.1L1043.1 196.2L1044.1 196.2L1045.0 196.2L1046.0 196.2L1047.0 196.2L1047.9 196.2L1048.9 196.3L1049.9 196.5L1050.8 196.7L1051.8 196.8L1052.8 196.8L1053.8 196.8L1054.8 196.8L1055.7 196.8L1056.7 196.8L1057.7 196.9L1058.8 196.9L1059.8 197.0L1060.8 197.0L1061.9 196.9L1062.9 196.8L1064.0 196.7L1065.0 196.6L1066.1 196.6L1067.2 196.7L1068.2 196.7L1069.3 196.7L1070.3 196.7L1071.4 196.6L1072.4 196.6L1073.5 196.6L1074.5 196.6L1075.5 196.5L1076.5 196.4L1077.5 196.4L1078.5 196.5L1079.4 196.6L1080.4 196.6L1081.3 196.6L1082.2 196.6L1083.1 196.6L1084.0 196.6L1084.8 196.5L1085.6 196.5L1086.4 196.5L1087.2 196.5L1088.4 196.5L1089.5 196.5L1090.6 196.6L1091.6 196.6L1092.6 196.6L1093.6 196.6L1094.5 196.7L1095.5 196.7L1096.4 196.8L1097.3 196.8L1098.2 196.8L1099.1 196.9L1100.0 196.9L1101.0 196.8L1102.1 196.7L1103.1 196.7L1104.1 196.6L1105.1 196.7L1106.0 196.8L1107.0 196.8L1108.0 196.7L1109.0 196.7L1110.0 196.7L1111.0 196.7L1112.0 196.8L1113.0 196.9L1114.0 197.0L1115.0 197.2L1116.0 197.4L1117.0 197.7L1118.0 197.9L1119.0 198.1L1120.0 198.3L1120.9 198.5L1121.9 198.8L1122.9 199.2L1123.8 199.6L1124.7 200.1L1125.6 200.6L1126.5 201.0L1127.4 201.4L1128.4 201.7L1129.3 202.1L1130.2 202.4L1131.1 202.7L1132.1 203.0L1133.0 203.2L1133.9 203.4L1134.8 203.6L1135.8 203.7L1136.7 203.9L1137.6 204.1L1138.5 204.3L1139.5 204.6L1140.4 205.0L1141.4 205.4L1142.3 205.8L1143.2 206.1L1144.2 206.4L1145.1 206.8L1146.0 207.1L1146.9 207.6L1147.9 208.1L1148.8 208.7L1149.7 209.2L1150.7 209.7L1151.6 210.1L1152.5 210.6L1153.4 211.2L1154.3 211.9L1155.3 212.6L1156.2 213.4L1157.1 214.1L1158.1 214.9L1159.0 215.6L1159.9 216.3L1160.8 217.0L1161.8 217.8L1162.7 218.5L1163.6 219.2L1164.6 220.0L1165.5 220.7L1166.5 221.5L1167.4 222.3L1168.4 223.0L1169.3 223.9L1170.2 224.7L1171.1 225.6L1172.1 226.6L1173.0 227.6L1173.9 228.6L1174.8 229.7L1175.8 230.9L1176.7 232.0L1177.6 233.2L1178.5 234.3L1179.4 235.3L1180.3 236.4L1181.3 237.4L1182.3 238.5L1183.2 239.6L1184.2 240.7L1185.1 241.8L1186.0 242.9L1186.9 244.1L1187.8 245.2L1188.8 246.7L1189.8 248.1L1190.8 249.5L1191.8 250.9L1192.7 252.4L1193.6 253.8L1194.5 255.2L1195.5 256.9L1196.5 258.5L1197.4 260.1L1198.4 261.8L1199.3 263.5L1200.3 265.3L1201.3 267.1L1202.2 268.9L1203.2 270.8L1204.2 272.7L1205.1 274.7L1206.1 276.7L1207.0 278.7L1208.0 281.0L1208.9 283.3L1209.8 285.6L1210.7 288.0L1211.7 290.4L1212.6 292.9L1213.6 295.5L1214.5 297.7L1215.4 299.9L1216.3 302.0L1217.3 304.3L1218.3 306.5L1219.2 308.7L1220.1 311.0L1221.0 313.3L1221.9 315.5L1222.9 318.4L1223.9 321.2L1224.9 324.1L1225.8 327.0L1226.8 329.9L1227.7 332.8L1228.6 335.6L1229.4 338.3L1230.3 340.8L1231.1 343.4L1231.9 346.0L1232.7 348.6L1233.5 351.2L1234.3 354.0L1235.2 356.7L1236.0 359.6L1236.9 362.5L1237.7 365.5L1238.6 368.5L1239.4 371.5L1240.2 374.4L1241.1 377.4L1241.9 380.3L1242.7 383.1L1243.5 386.0L1244.3 388.9L1245.1 391.7L1245.9 394.5L1246.6 397.3L1247.4 400.0L1248.2 402.7L1248.9 405.5L1249.6 408.2L1250.4 410.8L1251.1 413.5L1251.8 416.1L1252.4 418.6L1253.2 421.4L1253.9 424.1L1254.6 426.7L1255.3 429.4L1256.0 432.3L1256.7 434.8L1257.4 437.4L1258.1 440.1L1258.8 442.8L1259.5 445.7L1260.3 448.5L1261.0 451.5L1261.7 454.2L1262.4 456.9L1263.2 459.8L1263.9 462.7L1264.7 465.7L1265.4 468.6L1266.2 471.6L1267.0 474.6L1267.7 477.5L1268.5 480.4L1269.2 483.4L1270.0 486.5L1270.8 489.5L1271.5 492.5L1272.3 495.5L1273.1 498.4L1273.8 501.3L1274.6 504.3L1275.3 507.1L1276.1 510.2L1276.9 513.2L1277.7 516.2L1278.4 519.2L1279.2 522.2L1279.9 525.0L1280.7 527.8L1281.4 530.6L1282.1 533.5L1282.8 536.3L1283.5 539.1L1284.2 541.8L1284.9 544.4L1285.6 547.0L1286.3 549.5L1287.0 552.0L1287.7 554.4L1288.4 556.9L1289.1 559.5L1289.8 562.2L1290.6 564.9L1291.3 567.8L1292.1 570.8L1292.9 573.9L1293.7 577.0L1294.5 580.1L1295.4 583.2L1296.3 586.0L1297.1 588.5L1298.0 590.8L1298.9 593.1L1299.8 595.3L1300.7 597.6L1301.7 599.8L1302.7 602.0L1303.7 604.3L1304.6 606.2L1305.4 608.1L1306.3 610.0L1307.2 611.8L1308.2 613.6L1309.1 615.5L1310.1 617.4L1311.0 619.2L1312.0 621.1L1312.9 622.9L1313.8 624.6L1314.7 626.3L1315.6 628.1L1316.5 629.8L1317.5 631.5L1318.4 633.2L1319.3 634.8L1320.2 636.3L1321.2 637.8L1322.1 639.3L1323.0 640.6L1323.9 641.9L1324.8 643.0L1325.6 644.0L1326.5 645.0L1327.5 645.9L1328.4 646.7L1329.4 647.5L1330.3 648.1L1331.2 648.6L1332.1 649.1L1333.0 649.4L1334.0 649.7L1334.9 650.0L1335.9 650.2L1336.8 650.4L1337.7 650.6L1338.6 650.6L1339.5 650.5L1340.4 650.5L1341.3 650.6L1342.2 650.6L1343.2 650.6L1344.1 650.4L1345.0 650.2L1345.9 649.8L1346.8 649.4L1347.7 648.8L1348.7 648.3L1349.6 647.8L1350.5 647.2L1351.4 646.7L1352.4 646.2L1353.3 645.7L1354.2 645.1L1355.1 644.5L1356.0 643.8L1357.0 643.2L1357.9 642.7L1358.8 642.1L1359.7 641.5L1360.6 640.8L1361.6 640.2L1362.5 639.5L1363.4 638.9"/>
<path stroke="#1764dc" d="M155.5 185.1L156.5 184.9L157.5 184.8L158.4 184.6L159.4 184.5L160.4 184.5L161.3 184.3L162.3 184.1L163.3 183.9L164.4 183.8L165.4 183.7L166.5 183.7L167.4 183.6L168.3 183.5L169.2 183.3L170.1 183.2L171.1 183.2L172.0 183.2L173.0 183.2L174.0 183.2L175.0 183.1L176.0 183.0L177.0 182.9L178.0 182.9L179.0 182.8L180.0 182.6L180.9 182.6L181.9 182.5L182.9 182.5L183.9 182.5L184.8 182.5L185.8 182.4L186.8 182.4L187.7 182.4L188.7 182.4L189.6 182.5L190.6 182.5L191.6 182.5L192.5 182.6L193.5 182.7L194.5 182.8L195.4 182.9L196.4 182.9L197.4 182.9L198.4 182.9L199.4 183.0L200.3 183.1L201.2 183.1L202.2 183.1L203.1 183.1L204.0 183.2L205.0 183.3L205.9 183.5L206.8 183.7L207.8 184.0L208.7 184.2L209.6 184.4L210.6 184.5L211.6 184.7L212.5 184.8L213.5 185.0L214.5 185.1L215.5 185.2L216.5 185.5L217.6 185.7L218.6 185.9L219.5 186.1L220.4 186.2L221.3 186.2L222.2 186.3L223.1 186.3L224.0 186.4L225.0 186.5L225.9 186.5L226.8 186.6L227.8 186.7L228.7 186.7L229.7 186.7L230.7 186.7L231.6 186.8L232.6 186.9L233.6 187.0L234.6 187.1L235.6 187.2L236.6 187.3L237.6 187.4L238.6 187.4L239.7 187.5L240.7 187.6L241.7 187.8L242.8 187.9L243.9 188.0L244.9 188.0L246.0 188.0L246.9 188.1L247.8 188.3L248.7 188.5L249.6 188.6L250.5 188.7L251.5 188.7L252.4 188.7L253.4 188.6L254.3 188.7L255.3 188.9L256.3 189.0L257.3 189.0L258.3 189.0L259.3 189.1L260.2 189.3L261.3 189.4L262.3 189.5L263.3 189.5L264.3 189.4L265.3 189.4L266.3 189.5L267.3 189.6L268.3 189.7L269.4 189.7L270.4 189.7L271.4 189.8L272.4 189.8L273.4 189.9L274.4 190.0L275.5 190.2L276.5 190.3L277.5 190.4L278.5 190.5L279.5 190.5L280.5 190.5L281.4 190.6L282.4 190.7L283.4 190.8L284.4 190.8L285.3 190.8L286.3 190.8L287.2 190.8L288.2 190.9L289.2 191.0L290.3 191.1L291.3 191.3L292.3 191.4L293.3 191.4L294.3 191.4L295.3 191.3L296.3 191.3L297.3 191.3L298.3 191.5L299.3 191.6L300.3 191.7L301.3 191.8L302.3 191.9L303.3 192.0L304.3 192.1L305.2 192.0L306.2 192.1L307.2 192.1L308.2 192.2L309.1 192.3L310.1 192.3L311.1 192.4L312.0 192.5L313.0 192.5L313.9 192.5L314.9 192.6L315.8 192.6L316.8 192.6L317.7 192.7L318.7 192.7L319.6 192.8L320.6 192.8L321.5 192.8L322.5 192.9L323.5 192.9L324.5 193.1L325.5 193.3L326.5 193.6L327.5 193.8L328.4 193.9L329.4 193.9L330.4 193.8L331.3 193.8L332.3 193.8L333.2 193.9L334.2 194.1L335.1 194.1L336.1 194.0L337.0 193.9L338.0 193.9L338.9 193.9L339.9 194.0L340.9 194.1L341.8 194.1L342.8 194.2L343.8 194.3L344.8 194.4L345.8 194.5L346.8 194.6L347.9 194.7L348.9 194.8L350.0 194.9L350.9 195.0L351.8 195.0L352.7 195.1L353.6 195.2L354.6 195.3L355.5 195.4L356.4 195.5L357.4 195.6L358.3 195.7L359.3 195.7L360.3 195.7L361.2 195.6L362.2 195.6L363.2 195.7L364.2 195.9L365.1 196.0L366.1 196.1L367.1 196.1L368.1 196.1L369.1 196.2L370.1 196.3L371.1 196.4L372.1 196.5L373.1 196.6L374.2 196.7L375.2 196.8L376.2 196.9L377.2 197.0L378.2 197.0L379.2 197.0L380.2 196.9L381.2 196.9L382.2 197.0L383.2 197.0L384.2 197.1L385.2 197.2L386.2 197.3L387.2 197.4L388.2 197.4L389.2 197.5L390.2 197.6L391.2 197.7L392.2 197.8L393.2 197.8L394.1 197.7L395.1 197.7L396.1 197.7L397.1 197.8L398.1 197.8L399.0 197.9L400.0 198.0L401.0 198.0L402.0 198.0L402.9 198.0L403.9 198.0L404.9 198.1L405.9 198.2L406.9 198.3L407.8 198.3L408.8 198.3L409.8 198.4L410.8 198.4L411.7 198.4L412.7 198.3L413.7 198.3L414.7 198.3L415.7 198.2L416.6 198.2L417.6 198.2L418.6 198.3L419.6 198.4L420.6 198.6L421.5 198.7L422.5 198.7L423.5 198.8L424.5 198.8L425.4 198.8L426.4 198.7L427.4 198.6L428.4 198.6L429.4 198.7L430.3 198.7L431.3 198.8L432.3 198.9L433.3 198.9L434.3 199.0L435.2 199.1L436.2 199.3L437.2 199.4L438.2 199.4L439.2 199.4L440.1 199.4L441.1 199.5L442.1 199.6L443.1 199.6L444.1 199.6L445.1 199.6L446.0 199.7L447.0 199.7L448.0 199.8L449.0 199.9L450.0 199.9L450.9 199.9L451.9 200.0L452.9 200.1L453.9 200.2L454.9 200.3L455.8 200.4L456.8 200.4L457.8 200.4L458.8 200.5L459.8 200.6L460.8 200.7L461.7 200.8L462.7 200.9L463.7 200.9L464.7 200.9L465.7 200.9L466.6 200.9L467.6 201.0L468.6 201.0L469.6 201.1L470.6 201.2L471.5 201.3L472.5 201.4L473.5 201.4L474.5 201.5L475.5 201.6L476.4 201.7L477.4 201.7L478.4 201.8L479.4 201.8L480.4 201.9L481.4 201.9L482.4 202.0L483.4 202.1L484.3 202.1L485.3 202.1L486.3 202.1L487.3 202.2L488.3 202.2L489.3 202.2L490.3 202.3L491.3 202.3L492.3 202.4L493.3 202.5L494.2 202.6L495.2 202.7L496.2 202.6L497.2 202.6L498.2 202.6L499.2 202.7L500.2 202.8L501.1 202.9L502.1 203.1L503.1 203.3L504.1 203.5L505.0 203.6L506.0 203.6L507.0 203.6L507.9 203.6L508.9 203.7L509.8 203.7L510.8 203.7L511.8 203.7L512.7 203.8L513.7 204.0L514.6 204.1L515.6 204.2L516.6 204.2L517.6 204.2L518.7 204.2L519.7 204.4L520.7 204.5L521.7 204.6L522.7 204.7L523.7 204.7L524.6 204.7L525.6 204.7L526.6 204.7L527.6 204.7L528.6 204.9L529.6 205.0L530.6 205.1L531.5 205.2L532.5 205.2L533.5 205.3L534.5 205.3L535.4 205.4L536.4 205.4L537.4 205.5L538.3 205.6L539.3 205.6L540.3 205.7L541.3 205.8L542.2 205.8L543.2 205.9L544.2 206.0L545.1 206.0L546.1 206.1L547.1 206.2L548.1 206.3L549.0 206.3L550.0 206.5L551.0 206.6L552.0 206.8L553.0 207.0L553.9 207.2L554.9 207.3L555.9 207.4L556.9 207.5L557.9 207.6L558.9 207.8L559.8 207.9L560.8 208.0L561.8 208.0L562.8 208.1L563.8 208.2L564.8 208.3L565.7 208.5L566.7 208.7L567.7 208.9L568.7 209.0L569.6 209.0L570.6 209.1L571.6 209.3L572.6 209.5L573.5 209.7L574.5 209.8L575.5 209.8L576.5 209.9L577.5 210.0L578.4 210.2L579.4 210.4L580.4 210.5L581.4 210.6L582.3 210.7L583.3 210.8L584.3 210.9L585.3 211.0L586.3 211.1L587.3 211.3L588.2 211.6L589.2 211.9L590.2 212.1L591.2 212.2L592.2 212.3L593.2 212.4L594.2 212.4L595.2 212.5L596.2 212.6L597.2 212.9L598.2 213.2L599.2 213.6L600.2 213.9L601.2 214.0L602.2 214.0L603.2 214.1L604.2 214.2L605.2 214.4L606.2 214.7L607.1 214.9L608.1 215.1L609.1 215.3L610.1 215.4L611.0 215.5L612.0 215.6L613.0 215.8L613.9 216.0L614.9 216.2L615.8 216.3L616.7 216.5L617.7 216.7L618.6 216.9L619.6 217.2L620.7 217.3L621.7 217.5L622.7 217.6L623.7 217.8L624.8 217.9L625.8 218.1L626.8 218.3L627.8 218.6L628.8 218.9L629.8 219.1L630.8 219.3L631.8 219.4L632.7 219.6L633.7 219.9L634.7 220.2L635.7 220.5L636.6 220.7L637.6 220.9L638.5 221.0L639.5 221.2L640.4 221.3L641.4 221.6L642.3 221.8L643.2 222.0L644.2 222.1L645.1 222.2L646.0 222.3L647.0 222.5L648.1 222.6L649.1 222.7L650.2 222.9L651.2 223.2L652.2 223.5L653.2 223.7L654.2 223.9L655.2 224.1L656.2 224.3L657.2 224.5L658.2 224.7L659.2 224.9L660.1 225.0L661.1 225.1L662.0 225.2L663.0 225.4L663.9 225.7L664.8 226.0L665.7 226.1L666.6 226.2L667.7 226.3L668.7 226.4L669.7 226.6L670.7 226.8L671.7 226.9L672.7 227.1L673.7 227.3L674.6 227.6L675.6 227.9L676.5 228.0L677.5 228.2L678.4 228.2L679.3 228.3L680.3 228.4L681.3 228.5L682.3 228.5L683.3 228.5L684.3 228.3L685.3 228.1L686.4 227.9L687.4 227.7L688.3 227.6L689.3 227.5L690.2 227.4L691.1 227.2L691.9 227.1L692.7 227.1L693.7 227.1L694.6 227.3L695.5 227.6L696.3 227.9L697.2 228.2L698.1 228.3L699.0 228.3L700.0 228.0L701.0 227.6L702.0 227.0L703.0 226.6L704.0 226.2L705.0 226.1L706.0 226.3L707.0 226.8L708.0 227.3L709.0 227.9L710.0 228.5L710.9 229.0L711.9 229.2L712.8 229.1L713.8 228.8L714.7 228.5L715.6 228.2L716.5 228.0L717.4 228.0L718.4 228.2L719.3 228.7L720.3 229.3L721.3 230.0L722.3 230.6L723.3 231.0L724.2 231.2L725.1 231.2L726.0 230.8L726.8 230.4L727.7 229.9L728.7 229.5L729.7 229.3L730.5 229.4L731.3 229.5L732.3 229.8L733.2 230.1L734.2 230.3L735.2 230.4L736.2 230.5L737.2 230.7L738.2 230.9L739.2 231.2L740.2 231.5L741.1 231.7L742.0 231.8L743.1 231.9L744.0 232.0L745.0 232.1L745.9 232.1L746.8 232.2L747.8 232.3L748.8 232.4L750.0 232.6L750.8 232.7L751.6 232.9L752.4 233.1L753.3 233.3L754.2 233.4L755.2 233.5L756.2 233.6L757.1 233.7L758.2 233.8L759.2 233.9L760.2 234.0L761.3 234.0L762.3 234.1L763.4 234.3L764.4 234.4L765.5 234.6L766.5 234.8L767.6 235.1L768.6 235.3L769.6 235.6L770.6 235.7L771.6 235.8L772.6 235.8L773.5 235.8L774.5 235.9L775.5 235.9L776.5 236.0L777.5 236.2L778.4 236.5L779.4 236.8L780.4 237.0L781.4 237.2L782.4 237.3L783.3 237.4L784.3 237.5L785.3 237.6L786.3 237.8L787.3 238.0L788.3 238.2L789.2 238.2L790.2 238.2L791.2 238.2L792.2 238.2L793.2 238.3L794.2 238.4L795.2 238.5L796.1 238.6L797.1 238.7L798.2 238.9L799.2 239.0L800.2 239.1L801.2 239.1L802.1 239.2L803.1 239.2L804.1 239.2L805.1 239.2L806.1 239.2L807.0 239.3L808.0 239.3L808.9 239.3L809.9 239.3L810.8 239.3L811.7 239.2L812.7 239.1L813.7 238.9L814.8 238.8L815.8 238.7L816.8 238.6L817.8 238.5L818.8 238.3L819.7 238.1L820.7 237.9L821.6 237.7L822.6 237.5L823.5 237.2L824.3 237.0L825.2 236.8L826.0 236.6L826.8 236.3L827.9 235.7L828.9 235.0L829.9 234.2L830.8 233.5L831.7 232.8L832.6 232.1L833.4 231.5L834.2 231.0L835.0 230.5L835.9 230.1L836.6 229.9L837.4 229.9L838.2 230.0L839.2 230.1L839.9 230.2L840.7 230.4L841.6 230.5L842.5 230.7L843.4 230.9L844.4 231.3L845.4 231.6L846.4 232.0L847.5 232.3L848.6 232.6L849.7 232.9L850.7 233.3L851.8 233.7L852.9 234.1L853.8 234.5L854.7 234.8L855.6 235.2L856.6 235.6L857.5 235.9L858.5 236.1L859.5 236.4L860.5 236.7L861.4 237.1L862.4 237.6L863.4 237.9L864.5 238.3L865.5 238.7L866.5 239.2L867.5 239.6L868.5 240.0L869.5 240.4L870.5 240.8L871.5 241.1L872.5 241.3L873.5 241.6L874.5 242.0L875.4 242.4L876.4 242.8L877.4 243.2L878.4 243.5L879.3 243.7L880.3 244.0L881.3 244.3L882.3 244.7L883.2 245.1L884.2 245.5L885.2 245.9L886.2 246.3L887.1 246.7L888.1 247.0L889.1 247.3L890.1 247.5L891.1 247.8L892.0 248.0L893.0 248.3L894.0 248.6L895.0 248.8L896.0 249.1L896.9 249.4L897.9 249.6L898.9 249.8L899.9 250.0L900.9 250.3L901.9 250.5L902.9 250.6L903.9 250.8L904.9 250.9L905.9 251.1L906.9 251.3L907.8 251.6L908.8 251.8L909.8 251.9L910.8 251.9L911.7 251.9L912.7 252.1L913.7 252.2L914.6 252.4L915.6 252.7L916.6 253.0L917.6 253.2L918.7 253.4L919.7 253.6L920.7 253.8L921.7 254.0L922.7 254.2L923.7 254.4L924.7 254.6L925.7 254.7L926.7 254.9L927.6 254.9L928.5 255.0L929.4 255.1L930.3 255.1L931.2 255.2L932.0 255.3L933.1 255.5L934.2 255.7L935.2 255.8L936.1 256.0L937.1 256.0L938.0 256.0L939.0 255.9L940.0 256.0L941.0 256.1L941.9 256.2L942.9 256.2L943.8 256.2L944.8 256.2L945.8 256.1L946.8 256.0L947.8 255.9L948.8 255.8L949.8 255.8L950.9 255.6L952.0 255.5L952.8 255.4L953.7 255.2L954.6 255.1L955.5 255.0L956.4 254.9L957.3 254.8L958.2 254.6L959.2 254.4L960.1 254.2L961.1 254.1L962.1 254.0L963.1 253.8L964.1 253.6L965.1 253.4L966.1 253.3L967.1 253.3L968.1 253.3L969.2 253.2L970.2 253.1L971.1 253.1L972.0 253.0L973.0 253.0L973.9 253.0L974.9 253.1L975.9 253.1L976.9 253.1L977.9 253.1L979.0 253.1L980.0 253.1L981.0 253.0L982.1 253.0L983.1 253.0L984.1 253.0L985.1 253.0L986.2 252.9L987.2 252.9L988.1 253.0L989.1 253.0L990.1 253.1L991.0 253.1L991.9 253.1L992.8 253.0L993.7 253.0L994.5 252.9L995.3 252.9L996.4 252.8L997.5 252.7L998.6 252.6L999.6 252.4L1000.6 252.2L1001.6 251.9L1002.5 251.6L1003.4 251.4L1004.3 251.3L1005.2 251.3L1006.1 251.1L1007.0 251.1L1008.0 251.0L1008.9 251.0L1009.8 250.9L1010.7 250.8L1011.6 250.8L1012.4 250.9L1013.4 251.0L1014.3 251.0L1015.3 251.0L1016.2 251.0L1017.0 251.1L1017.9 251.2L1018.9 251.4L1019.8 251.6L1020.8 251.8L1021.7 252.0L1022.7 252.2L1023.7 252.4L1024.7 252.7L1025.7 253.0L1026.7 253.3L1027.7 253.5L1028.7 253.7L1029.6 253.9L1030.6 254.1L1031.6 254.3L1032.6 254.5L1033.6 254.8L1034.6 255.1L1035.6 255.3L1036.6 255.6L1037.6 255.9L1038.7 256.3L1039.7 256.7L1040.7 257.0L1041.6 257.3L1042.6 257.6L1043.6 257.9L1044.5 258.3L1045.4 258.8L1046.4 259.4L1047.5 260.1L1048.5 260.7L1049.5 261.4L1050.4 262.2L1051.4 262.9L1052.3 263.6L1053.3 264.3L1054.2 265.0L1055.1 265.8L1056.0 266.6L1057.0 267.3L1057.9 268.0L1058.8 268.7L1059.8 269.4L1060.8 270.1L1061.8 270.8L1062.8 271.4L1063.8 272.0L1064.8 272.6L1065.8 273.2L1066.8 273.9L1067.7 274.6L1068.7 275.4L1069.6 276.2L1070.5 277.0L1071.6 278.1L1072.6 279.2L1073.7 280.4L1074.7 281.6L1075.7 282.7L1076.6 283.9L1077.6 285.2L1078.6 286.4L1079.5 287.5L1080.5 288.6L1081.4 289.8L1082.4 291.0L1083.3 292.2L1084.3 293.5L1085.2 294.8L1086.2 296.0L1087.1 297.2L1088.0 298.4L1088.9 299.6L1089.8 300.8L1090.6 302.1L1091.6 303.6L1092.6 305.2L1093.6 306.9L1094.5 308.5L1095.5 310.3L1096.4 312.0L1097.2 313.8L1098.1 315.5L1098.9 317.3L1100.0 319.8L1101.0 322.4L1102.0 325.0L1102.9 327.7L1103.9 330.4L1104.7 333.0L1105.6 335.6L1106.5 338.3L1107.3 340.9L1108.1 343.5L1108.9 346.2L1109.7 349.0L1110.5 352.0L1111.2 354.5L1111.9 357.1L1112.7 359.9L1113.5 362.7L1114.2 365.6L1115.0 368.5L1115.8 371.5L1116.6 374.5L1117.3 377.5L1118.1 380.5L1118.8 383.4L1119.4 386.2L1120.1 388.9L1120.7 391.7L1121.3 394.5L1122.0 397.3L1122.6 400.1L1123.2 402.9L1123.8 405.7L1124.3 408.5L1124.9 411.3L1125.5 414.1L1126.1 416.9L1126.6 419.7L1127.2 422.5L1127.7 425.2L1128.3 428.0L1128.8 430.8L1129.3 433.6L1129.9 436.4L1130.4 439.2L1130.9 442.0L1131.4 444.8L1131.9 447.5L1132.4 450.3L1132.9 453.1L1133.4 455.9L1133.8 458.7L1134.3 461.5L1134.8 464.3L1135.2 467.1L1135.7 469.9L1136.1 472.6L1136.6 475.4L1137.0 478.2L1137.5 481.0L1137.9 483.8L1138.3 486.6L1138.8 489.4L1139.2 492.2L1139.6 495.1L1140.0 497.9L1140.4 500.7L1140.8 503.5L1141.3 506.3L1141.7 509.1L1142.0 511.8L1142.4 514.5L1142.8 517.2L1143.2 520.1L1143.6 522.9L1144.0 525.7L1144.4 528.4L1144.8 531.2L1145.1 533.9L1145.5 536.6L1145.9 539.4L1146.3 542.2L1146.7 545.0L1147.0 547.8L1147.4 550.6L1147.8 553.5L1148.2 556.3L1148.6 559.2L1149.0 562.1L1149.4 565.0L1149.7 567.9L1150.1 570.9L1150.5 573.8L1151.0 576.8L1151.3 579.5L1151.7 582.3L1152.1 585.1L1152.5 587.9L1152.9 590.8L1153.2 593.6L1153.6 596.5L1154.0 599.3L1154.4 602.2L1154.8 605.1L1155.2 607.9L1155.6 610.8L1156.0 613.6L1156.4 616.4L1156.9 619.3L1157.3 622.1L1157.7 624.9L1158.1 627.7L1158.5 630.5L1158.9 633.3L1159.4 636.2L1159.8 639.0L1160.2 641.8L1160.7 644.7L1161.1 647.5L1161.6 650.3L1162.0 653.2L1162.5 656.0L1163.0 658.9L1163.4 661.8L1163.9 664.6L1164.4 667.5L1164.9 670.4L1165.4 673.2L1165.9 676.1L1166.3 678.9L1166.8 681.7L1167.3 684.4L1167.8 687.1L1168.3 690.2L1168.9 693.3L1169.4 696.4L1170.0 699.4L1170.5 702.4L1171.0 705.4L1171.6 708.3L1172.1 711.1L1172.7 713.9L1173.3 716.6L1174.0 719.7L1174.7 722.9L1175.5 726.0L1176.2 729.0L1177.0 731.8L1177.8 734.4L1178.6 736.8L1179.5 738.9L1180.4 741.1L1181.3 743.0L1182.2 744.7L1183.2 746.1L1184.0 747.0L1184.7 747.8L1185.5 748.4L1186.3 748.6L1187.1 748.3L1188.0 747.7L1188.9 746.7L1189.8 745.5L1190.6 744.3L1191.6 742.5L1192.5 740.5L1193.4 738.4L1194.3 736.0L1195.2 733.7L1196.1 731.3L1197.1 728.7L1198.0 725.9L1199.0 723.1L1200.0 720.2L1200.9 717.3L1201.7 714.6L1202.5 712.0L1203.3 709.0L1204.0 706.2L1204.7 703.3L1205.5 700.0L1206.1 697.5L1206.8 694.8L1207.5 692.0L1208.3 689.0L1209.1 686.0L1209.8 682.9L1210.6 679.8L1211.3 676.7L1212.1 673.7L1212.8 670.8L1213.5 667.8L1214.1 664.8L1214.8 661.9L1215.5 658.9L1216.2 655.9L1216.8 653.0L1217.5 650.0L1218.2 647.0L1218.8 644.0L1219.5 641.0L1220.1 638.1L1220.7 635.1L1221.4 632.1L1222.0 629.1L1222.6 626.1L1223.2 623.2L1223.9 620.2L1224.5 617.2L1225.1 614.3L1225.7 611.3L1226.3 608.4L1226.9 605.4L1227.5 602.4L1228.1 599.4L1228.7 596.4L1229.3 593.5L1230.0 590.5L1230.6 587.5L1231.2 584.5L1231.8 581.6L1232.4 578.6L1233.0 575.6L1233.6 572.7L1234.3 569.7L1234.9 566.7L1235.5 563.7L1236.2 560.6L1236.8 557.5L1237.5 554.4L1238.2 551.3L1238.8 548.3L1239.5 545.4L1240.1 542.6L1240.7 540.0L1241.3 536.9L1242.0 534.1L1242.6 531.5L1243.2 528.7L1243.9 525.6L1244.5 523.1L1245.2 520.5L1245.8 517.7L1246.5 514.8L1247.2 511.9L1248.0 508.9L1248.7 505.9L1249.5 503.0L1250.2 500.1L1251.0 497.2L1251.8 494.2L1252.6 491.1L1253.4 488.1L1254.3 485.0L1255.1 482.0L1256.0 479.0L1256.8 476.0L1257.6 473.1L1258.5 470.3L1259.4 467.3L1260.3 464.3L1261.2 461.4L1262.1 458.5L1263.0 455.6L1263.9 452.8L1264.9 450.0L1265.7 447.4L1266.6 444.8L1267.5 442.2L1268.4 439.7L1269.3 437.2L1270.1 434.7L1271.0 432.3L1271.9 429.9L1272.7 427.5L1273.6 425.3L1274.4 423.0L1275.3 420.8L1276.2 418.6L1277.0 416.3L1278.0 414.1L1278.9 411.8L1279.8 409.5L1280.7 407.2L1281.7 404.9L1282.7 402.6L1283.6 400.4L1284.6 398.2L1285.6 395.9L1286.6 393.6L1287.7 391.3L1288.6 389.3L1289.5 387.4L1290.4 385.4L1291.3 383.4L1292.2 381.4L1293.2 379.4L1294.1 377.4L1295.1 375.3L1296.1 373.2L1297.2 371.0L1298.2 369.0L1299.3 367.0L1300.2 365.2L1301.0 363.6L1302.0 361.9L1302.8 360.4L1303.8 358.7L1304.7 357.1L1305.6 355.4L1306.6 353.5L1307.7 351.6L1308.7 349.9L1309.6 348.4L1310.4 346.8L1311.2 345.3L1312.1 343.7L1313.0 342.2L1314.0 340.8L1314.9 339.5L1315.9 338.3L1316.8 337.1L1317.9 335.9L1318.9 334.8L1319.9 333.8L1320.9 332.7L1321.9 331.6L1322.8 330.4L1323.8 329.3L1324.8 328.2L1325.7 327.2L1326.7 326.1L1327.7 325.0L1328.7 323.9L1329.7 322.8L1330.6 321.7L1331.6 320.6L1332.6 319.5L1333.6 318.4L1334.6 317.4L1335.5 316.6L1336.4 315.8L1337.4 314.9L1338.3 314.1L1339.2 313.3L1340.2 312.5L1341.1 311.6"/>
<path stroke="#30a762" d="M155.5 205.2L156.5 205.0L157.5 204.7L158.4 204.6L159.4 204.4L160.4 204.2L161.3 204.0L162.3 203.7L163.3 203.5L164.4 203.3L165.4 203.0L166.5 202.8L167.4 202.6L168.3 202.5L169.2 202.4L170.1 202.3L171.1 202.2L172.0 202.0L173.0 201.9L174.0 201.8L175.0 201.6L176.0 201.5L177.0 201.3L178.0 201.1L179.0 200.9L180.0 200.8L180.9 200.8L181.9 200.9L182.9 200.9L183.9 200.9L184.9 200.8L185.8 200.7L186.8 200.7L187.8 200.5L188.8 200.4L189.8 200.3L190.8 200.2L191.8 200.1L192.8 200.0L193.8 200.0L194.7 199.9L195.7 199.9L196.6 199.9L197.6 199.9L198.5 199.9L199.4 200.0L200.4 200.1L201.4 200.2L202.3 200.4L203.2 200.6L204.1 200.8L205.0 201.1L205.9 201.4L206.8 201.6L207.7 201.8L208.7 202.1L209.6 202.4L210.7 202.7L211.7 202.9L212.6 203.0L213.4 203.1L214.3 203.2L215.2 203.3L216.2 203.4L217.1 203.6L218.1 203.8L219.0 204.0L220.0 204.2L221.0 204.3L222.0 204.4L223.0 204.5L224.0 204.5L225.0 204.5L226.0 204.6L227.1 204.7L228.1 204.8L229.2 204.9L230.2 205.1L231.2 205.2L232.3 205.3L233.2 205.4L234.1 205.5L235.1 205.5L236.0 205.6L237.0 205.6L237.9 205.7L238.9 205.7L239.8 205.8L240.8 205.9L241.8 205.9L242.8 206.0L243.8 206.1L244.8 206.2L245.7 206.2L246.7 206.2L247.7 206.2L248.7 206.3L249.7 206.4L250.8 206.5L251.8 206.5L252.8 206.5L253.8 206.5L254.8 206.5L255.7 206.6L256.7 206.8L257.7 206.9L258.7 207.0L259.7 207.0L260.7 207.1L261.7 207.1L262.6 207.2L263.6 207.3L264.6 207.4L265.5 207.4L266.5 207.5L267.5 207.6L268.4 207.7L269.4 207.8L270.4 207.8L271.3 207.7L272.3 207.7L273.3 207.8L274.2 207.9L275.2 207.9L276.2 207.9L277.2 208.0L278.1 208.2L279.1 208.4L280.1 208.5L281.1 208.6L282.1 208.7L283.1 208.7L284.1 208.7L285.1 208.7L286.2 208.8L287.2 209.1L288.1 209.3L289.1 209.4L290.0 209.5L291.0 209.5L291.9 209.5L292.9 209.5L293.9 209.5L294.8 209.5L295.8 209.5L296.8 209.7L297.8 209.8L298.8 209.9L299.8 210.0L300.8 210.0L301.8 210.0L302.8 210.1L303.8 210.2L304.8 210.3L305.8 210.4L306.8 210.4L307.8 210.4L308.8 210.4L309.8 210.5L310.8 210.6L311.8 210.7L312.8 210.7L313.8 210.7L314.8 210.8L315.8 210.9L316.7 210.9L317.7 211.0L318.7 211.0L319.6 211.2L320.6 211.3L321.5 211.5L322.5 211.6L323.5 211.7L324.5 211.8L325.5 211.9L326.5 211.9L327.5 212.0L328.4 212.1L329.4 212.2L330.4 212.2L331.3 212.1L332.3 212.1L333.2 212.1L334.2 212.2L335.1 212.3L336.1 212.4L337.0 212.4L338.0 212.5L338.9 212.5L339.9 212.6L340.9 212.7L341.8 212.9L342.8 213.0L343.8 213.2L344.8 213.3L345.8 213.4L346.8 213.4L347.9 213.4L348.9 213.4L350.0 213.4L350.9 213.4L351.8 213.4L352.7 213.4L353.6 213.5L354.6 213.7L355.5 213.8L356.4 213.9L357.4 213.9L358.3 214.0L359.3 214.2L360.3 214.3L361.2 214.5L362.2 214.6L363.2 214.7L364.2 214.7L365.1 214.7L366.1 214.7L367.1 214.8L368.1 215.0L369.1 215.2L370.1 215.2L371.1 215.3L372.1 215.3L373.1 215.3L374.2 215.5L375.2 215.6L376.2 215.8L377.2 215.8L378.2 215.9L379.2 215.9L380.2 216.0L381.2 216.1L382.2 216.1L383.2 216.2L384.2 216.3L385.3 216.4L386.2 216.6L387.2 216.8L388.2 216.9L389.2 216.9L390.2 216.9L391.2 217.0L392.2 217.2L393.2 217.3L394.1 217.5L395.1 217.6L396.1 217.7L397.1 217.8L398.1 217.9L399.0 218.1L400.0 218.2L401.0 218.4L402.0 218.4L402.9 218.3L403.9 218.3L404.9 218.3L405.9 218.3L406.9 218.4L407.8 218.6L408.8 218.8L409.8 219.0L410.8 219.1L411.7 219.1L412.7 219.1L413.7 219.2L414.7 219.2L415.7 219.2L416.6 219.2L417.6 219.3L418.6 219.5L419.6 219.7L420.6 219.8L421.5 219.8L422.5 219.8L423.5 219.8L424.5 219.8L425.4 219.9L426.4 219.9L427.4 220.0L428.4 220.1L429.4 220.2L430.3 220.3L431.3 220.4L432.3 220.5L433.3 220.6L434.3 220.8L435.2 220.9L436.2 220.9L437.2 220.9L438.2 221.0L439.2 221.1L440.1 221.2L441.1 221.3L442.1 221.4L443.1 221.6L444.1 221.8L445.1 222.0L446.0 222.1L447.0 222.1L448.0 222.0L449.0 222.0L450.0 222.0L450.9 222.1L451.9 222.2L452.9 222.3L453.9 222.4L454.9 222.4L455.8 222.5L456.8 222.6L457.8 222.7L458.8 222.7L459.8 222.8L460.7 222.8L461.7 222.9L462.7 223.0L463.7 223.2L464.7 223.3L465.7 223.3L466.6 223.4L467.6 223.5L468.6 223.6L469.6 223.7L470.6 223.9L471.5 224.1L472.5 224.2L473.5 224.3L474.5 224.4L475.5 224.5L476.4 224.5L477.4 224.6L478.4 224.7L479.4 224.8L480.4 225.0L481.4 225.1L482.4 225.1L483.4 225.2L484.3 225.2L485.3 225.2L486.3 225.2L487.3 225.2L488.3 225.2L489.3 225.3L490.3 225.4L491.3 225.6L492.3 225.7L493.3 225.8L494.2 225.8L495.2 225.9L496.2 226.1L497.2 226.3L498.2 226.4L499.2 226.4L500.1 226.4L501.1 226.4L502.1 226.6L503.1 226.7L504.1 226.8L505.0 226.8L506.0 226.8L507.0 226.9L507.9 226.9L508.9 227.0L509.8 227.1L510.8 227.3L511.8 227.4L512.7 227.5L513.7 227.5L514.6 227.6L515.6 227.6L516.6 227.7L517.6 227.7L518.7 227.7L519.7 227.8L520.7 227.9L521.7 227.9L522.7 228.1L523.6 228.2L524.6 228.3L525.6 228.4L526.6 228.4L527.6 228.5L528.6 228.5L529.6 228.6L530.5 228.6L531.5 228.7L532.5 228.9L533.5 229.0L534.4 229.2L535.4 229.3L536.4 229.3L537.4 229.4L538.3 229.3L539.3 229.3L540.3 229.4L541.2 229.5L542.2 229.6L543.2 229.7L544.2 229.7L545.1 229.9L546.1 230.0L547.1 230.2L548.1 230.3L549.0 230.3L550.0 230.3L551.0 230.4L552.0 230.4L553.0 230.5L553.9 230.5L554.9 230.5L555.9 230.5L556.9 230.5L557.9 230.6L558.9 230.7L559.8 230.8L560.8 230.9L561.8 231.0L562.8 231.1L563.8 231.3L564.7 231.4L565.7 231.4L566.7 231.4L567.7 231.3L568.6 231.4L569.6 231.4L570.6 231.5L571.6 231.6L572.6 231.7L573.5 231.7L574.5 231.7L575.5 231.8L576.5 231.8L577.4 231.9L578.4 232.0L579.4 232.1L580.4 232.1L581.4 232.1L582.3 232.1L583.3 232.1L584.3 232.2L585.3 232.3L586.3 232.5L587.3 232.6L588.2 232.7L589.2 232.8L590.2 232.8L591.2 232.9L592.2 232.9L593.2 232.9L594.2 232.9L595.2 232.9L596.2 232.8L597.2 232.8L598.2 232.9L599.2 233.1L600.2 233.2L601.2 233.3L602.2 233.3L603.2 233.4L604.2 233.5L605.2 233.5L606.1 233.5L607.1 233.6L608.1 233.7L609.1 233.7L610.1 233.7L611.0 233.6L612.0 233.6L612.9 233.6L613.9 233.7L614.9 233.8L615.8 233.8L616.7 233.8L617.7 233.9L618.6 233.9L619.6 234.0L620.7 234.0L621.7 234.0L622.7 234.0L623.7 234.1L624.7 234.2L625.8 234.3L626.8 234.4L627.8 234.5L628.8 234.6L629.8 234.7L630.8 234.8L631.8 234.8L632.7 234.8L633.7 234.8L634.7 234.8L635.7 234.8L636.6 234.8L637.6 234.9L638.6 235.0L639.5 235.1L640.4 235.2L641.4 235.3L642.3 235.3L643.3 235.2L644.2 235.2L645.1 235.3L646.0 235.4L647.1 235.6L648.1 235.8L649.1 236.0L650.2 236.1L651.2 236.3L652.2 236.6L653.2 236.8L654.3 237.0L655.3 237.1L656.3 237.2L657.2 237.2L658.2 237.3L659.2 237.5L660.2 237.7L661.1 238.0L662.0 238.2L663.0 238.3L663.9 238.4L664.8 238.4L665.7 238.4L666.6 238.4L667.7 238.3L668.7 238.3L669.7 238.4L670.8 238.5L671.8 238.5L672.7 238.5L673.7 238.4L674.7 238.2L675.6 238.1L676.6 238.0L677.5 238.0L678.5 237.9L679.4 237.9L680.3 237.9L681.3 237.9L682.4 238.1L683.4 238.3L684.3 238.7L685.3 239.0L686.3 239.4L687.3 239.8L688.2 240.1L689.2 240.4L690.3 240.6L691.3 240.6L692.2 240.5L693.2 240.3L694.1 240.2L695.0 240.0L696.0 239.9L696.9 239.6L697.9 239.3L698.9 238.9L699.9 238.5L700.9 238.1L701.9 237.9L702.9 237.8L703.9 237.7L705.0 237.7L705.9 237.8L706.8 237.9L707.7 237.9L708.7 238.0L709.6 238.1L710.6 238.3L711.6 238.4L712.6 238.6L713.5 238.7L714.5 238.9L715.5 239.1L716.5 239.2L717.5 239.4L718.5 239.5L719.5 239.7L720.5 239.7L721.4 239.8L722.4 239.9L723.3 240.0L724.2 240.0L725.2 240.0L726.2 239.9L727.2 239.8L728.2 239.6L729.1 239.5L730.1 239.3L731.1 239.0L732.0 238.7L733.0 238.4L733.9 238.1L734.8 237.9L735.7 237.8L736.7 237.7L737.5 237.6L738.4 237.5L739.3 237.4L740.3 237.4L741.3 237.4L742.3 237.4L743.2 237.4L744.1 237.5L745.0 237.6L745.9 237.6L746.9 237.6L747.9 237.6L748.9 237.6L750.0 237.5L750.8 237.4L751.7 237.2L752.6 237.0L753.5 236.8L754.5 236.7L755.4 236.7L756.4 236.6L757.4 236.5L758.4 236.3L759.4 236.1L760.4 235.9L761.4 235.8L762.5 235.7L763.5 235.5L764.5 235.3L765.6 235.0L766.6 234.8L767.6 234.6L768.6 234.4L769.6 234.2L770.6 234.1L771.6 233.9L772.6 233.7L773.6 233.5L774.6 233.3L775.6 233.2L776.6 233.0L777.6 232.7L778.6 232.5L779.6 232.1L780.6 231.9L781.6 231.6L782.6 231.5L783.6 231.3L784.5 231.1L785.5 231.0L786.5 230.7L787.4 230.5L788.4 230.2L789.3 229.9L790.3 229.6L791.2 229.3L792.2 229.0L793.2 228.6L794.3 228.3L795.3 228.0L796.3 227.8L797.2 227.4L798.2 227.1L799.2 226.7L800.2 226.3L801.1 225.8L802.1 225.4L803.0 225.1L803.9 224.7L804.9 224.4L805.8 224.1L806.7 223.7L807.6 223.3L808.6 222.7L809.7 222.1L810.7 221.5L811.8 220.9L812.8 220.3L813.8 219.7L814.8 219.1L815.8 218.6L816.8 218.0L817.7 217.3L818.7 216.6L819.6 215.9L820.5 215.3L821.3 214.8L822.4 214.0L823.4 213.3L824.4 212.5L825.4 211.7L826.4 210.9L827.2 210.1L828.1 209.3L828.9 208.4L829.6 207.4L830.7 205.6L831.6 203.6L832.4 201.6L833.0 199.6L833.7 197.8L834.5 194.7L835.7 192.3L836.3 191.9L837.1 191.5L837.9 191.2L838.9 191.0L839.9 190.8L841.0 190.6L842.1 190.4L843.3 190.1L844.0 189.9L844.8 189.7L845.6 189.6L846.4 189.5L847.3 189.4L848.2 189.4L849.1 189.3L850.0 189.1L851.0 188.9L852.0 188.6L853.0 188.3L854.0 188.2L855.1 188.0L856.1 188.0L857.2 187.8L858.2 187.7L859.3 187.5L860.3 187.2L861.4 187.1L862.5 186.9L863.5 186.7L864.5 186.6L865.6 186.4L866.6 186.2L867.5 186.1L868.5 186.0L869.4 185.8L870.4 185.6L871.4 185.5L872.3 185.3L873.3 185.2L874.3 185.0L875.2 184.8L876.2 184.5L877.2 184.3L878.2 184.2L879.2 184.1L880.1 184.0L881.1 184.0L882.1 183.9L883.1 183.8L884.1 183.6L885.1 183.5L886.1 183.3L887.1 183.2L888.1 183.1L889.1 183.0L890.1 182.9L891.0 182.9L892.0 182.8L893.0 182.8L894.0 182.7L895.0 182.6L896.0 182.5L897.0 182.4L898.0 182.4L899.0 182.3L900.0 182.2L901.0 182.1L902.0 182.0L903.0 181.9L904.0 181.9L905.0 181.9L906.0 181.9L907.0 181.9L908.0 181.8L909.0 181.7L910.0 181.6L911.0 181.6L912.0 181.6L913.0 181.6L913.9 181.6L914.9 181.6L915.9 181.5L916.8 181.5L917.8 181.4L918.7 181.4L919.7 181.2L920.6 181.1L921.5 181.1L922.5 181.1L923.5 181.1L924.6 181.1L925.5 181.1L926.5 181.2L927.5 181.2L928.5 181.1L929.4 180.9L930.4 180.8L931.3 180.7L932.3 180.6L933.2 180.6L934.2 180.5L935.1 180.5L936.0 180.5L937.0 180.5L937.9 180.5L938.9 180.5L939.8 180.5L940.7 180.6L941.7 180.6L942.7 180.7L943.6 180.8L944.6 180.9L945.6 180.9L946.6 180.9L947.5 180.9L948.5 181.0L949.5 181.1L950.5 181.3L951.4 181.5L952.4 181.8L953.4 182.1L954.3 182.3L955.3 182.5L956.2 182.6L957.2 182.8L958.1 183.0L959.1 183.2L960.0 183.4L960.9 183.6L961.8 184.0L962.8 184.4L963.9 184.9L964.9 185.4L965.9 185.8L967.0 186.3L968.0 186.7L969.0 187.1L970.0 187.5L970.9 187.9L971.9 188.4L972.9 188.8L973.8 189.3L974.8 189.7L975.7 190.2L976.7 190.7L977.6 191.2L978.5 191.8L979.5 192.4L980.5 192.9L981.6 193.5L982.5 194.1L983.5 194.6L984.5 195.3L985.5 196.0L986.4 196.8L987.4 197.7L988.3 198.4L989.2 199.1L990.1 199.8L991.0 200.5L991.9 201.2L993.0 202.1L994.0 202.9L995.0 203.9L996.0 204.9L997.0 205.9L998.0 207.0L998.9 208.1L999.9 209.1L1000.8 210.2L1001.7 211.3L1002.7 212.3L1003.6 213.5L1004.6 214.8L1005.7 216.3L1006.7 217.8L1007.7 219.3L1008.8 220.9L1009.8 222.4L1010.7 224.0L1011.7 225.5L1012.6 227.1L1013.6 228.6L1014.4 230.2L1015.3 231.8L1016.4 234.0L1017.4 236.2L1018.4 238.4L1019.4 240.6L1020.3 242.9L1021.2 245.1L1022.0 247.5L1022.9 249.8L1023.7 252.1L1024.6 254.7L1025.5 257.4L1026.3 260.0L1027.2 262.6L1027.9 265.3L1028.7 268.0L1029.5 270.8L1030.3 273.7L1031.0 276.4L1031.6 279.1L1032.3 281.9L1033.0 284.8L1033.6 287.7L1034.3 290.6L1034.9 293.5L1035.5 296.4L1036.2 299.3L1036.8 302.1L1037.4 305.0L1038.0 307.9L1038.6 310.8L1039.2 313.6L1039.8 316.5L1040.4 319.4L1040.9 322.2L1041.5 325.0L1042.1 327.8L1042.6 330.6L1043.1 333.4L1043.7 336.1L1044.2 338.8L1044.7 341.5L1045.2 344.1L1045.7 346.8L1046.2 349.5L1046.7 352.2L1047.2 355.0L1047.7 357.7L1048.2 360.5L1048.7 363.3L1049.2 366.1L1049.6 368.9L1050.1 371.8L1050.6 374.6L1051.1 377.6L1051.6 380.5L1052.0 383.4L1052.5 386.1L1052.9 388.8L1053.3 391.6L1053.7 394.3L1054.2 397.1L1054.6 399.9L1055.0 402.8L1055.4 405.6L1055.9 408.4L1056.3 411.3L1056.7 414.1L1057.1 416.9L1057.5 419.7L1057.8 422.5L1058.2 425.3L1058.6 428.0L1059.0 430.8L1059.3 433.6L1059.7 436.4L1060.1 439.2L1060.4 441.9L1060.8 444.7L1061.1 447.5L1061.5 450.3L1061.8 453.1L1062.2 455.9L1062.5 458.6L1062.9 461.4L1063.2 464.2L1063.5 467.0L1063.8 469.8L1064.2 472.6L1064.5 475.4L1064.8 478.2L1065.1 481.0L1065.4 483.8L1065.7 486.6L1066.0 489.4L1066.3 492.2L1066.6 495.1L1066.9 497.9L1067.2 500.7L1067.5 503.5L1067.8 506.3L1068.1 509.1L1068.4 511.8L1068.7 514.5L1069.0 517.2L1069.2 520.0L1069.5 522.8L1069.8 525.5L1070.0 528.2L1070.3 530.8L1070.6 533.5L1070.8 536.2L1071.1 539.0L1071.4 541.9L1071.7 545.0L1071.9 547.5L1072.2 550.1L1072.4 552.8L1072.7 555.5L1072.9 558.2L1073.2 561.0L1073.4 563.9L1073.7 566.8L1074.0 569.7L1074.2 572.6L1074.5 575.5L1074.8 578.5L1075.0 581.4L1075.3 584.4L1075.6 587.3L1075.8 590.2L1076.1 593.1L1076.3 596.0L1076.6 598.9L1076.9 601.9L1077.1 604.8L1077.4 607.8L1077.7 610.8L1077.9 613.8L1078.2 616.8L1078.5 619.7L1078.7 622.7L1079.0 625.7L1079.2 628.7L1079.5 631.6L1079.8 634.5L1080.0 637.4L1080.3 640.3L1080.6 643.3L1080.9 646.3L1081.1 649.3L1081.4 652.3L1081.7 655.2L1081.9 658.1L1082.2 661.1L1082.5 664.0L1082.7 666.9L1083.0 669.8L1083.3 672.8L1083.6 675.8L1083.9 678.8L1084.2 681.9L1084.5 685.0L1084.8 687.8L1085.0 690.6L1085.3 693.4L1085.6 696.3L1085.9 699.2L1086.2 702.1L1086.5 705.0L1086.8 708.0L1087.1 710.9L1087.4 713.9L1087.7 716.9L1088.0 719.8L1088.3 722.8L1088.7 725.7L1089.0 728.7L1089.3 731.6L1089.6 734.5L1089.9 737.4L1090.3 740.2L1090.6 743.2L1091.0 746.3L1091.3 749.3L1091.7 752.4L1092.1 755.4L1092.4 758.5L1092.8 761.5L1093.2 764.5L1093.5 767.5L1093.9 770.5L1094.3 773.4L1094.7 776.3L1095.0 779.2L1095.4 782.0L1095.8 784.7L1096.1 787.4L1096.5 790.0L1096.9 793.0L1097.3 796.0L1097.7 798.8L1098.0 801.5L1098.4 804.2L1098.8 806.9L1099.2 809.5L1099.6 812.1L1100.0 814.7L1100.4 817.4L1100.8 820.1L1101.2 822.9L1101.6 825.7L1102.0 828.5L1102.4 831.3L1102.9 834.1L1103.3 836.9L1103.7 839.7L1104.1 842.5L1104.6 845.1L1105.0 847.7L1105.4 850.2L1105.9 853.3L1106.4 856.3L1107.0 859.2L1107.5 862.1L1108.0 864.9L1108.6 867.6L1109.2 870.3L1109.9 873.5L1110.7 876.6L1111.5 879.6L1112.3 882.5L1113.1 885.3L1113.9 888.0L1114.8 890.6L1115.7 893.0L1116.6 895.3L1117.4 897.2L1118.3 899.2L1119.2 901.0L1120.1 902.4L1120.8 903.5L1121.6 904.3L1122.3 904.6L1123.1 904.3L1123.8 903.5L1124.6 902.4L1125.5 901.0L1126.4 899.2L1127.2 897.3L1128.0 895.3L1128.8 893.0L1129.6 890.5L1130.3 887.9L1131.0 885.2L1131.8 882.5L1132.6 879.6L1133.4 876.5L1134.2 873.4L1135.0 870.3L1135.7 867.6L1136.4 864.8L1137.1 861.9L1137.9 858.9L1138.6 856.0L1139.4 853.1L1140.1 850.2L1140.8 847.3L1141.5 844.4L1142.2 841.6L1142.9 838.7L1143.6 835.9L1144.3 833.0L1145.0 830.1L1145.6 827.3L1146.3 824.3L1147.0 821.4L1147.6 818.5L1148.3 815.6L1148.9 812.8L1149.5 810.1L1150.1 807.5L1150.7 805.0L1151.2 802.5L1151.7 800.1L1152.3 797.6L1152.8 795.0L1153.4 792.3L1154.0 789.6L1154.6 786.9L1155.2 784.1L1155.8 781.2L1156.4 778.3L1157.0 775.3L1157.6 772.7L1158.1 769.9L1158.7 767.2L1159.3 764.4L1159.8 761.5L1160.4 758.7L1161.0 755.9L1161.6 753.0L1162.2 750.2L1162.7 747.4L1163.3 744.6L1163.8 741.9L1164.4 739.1L1165.0 736.3L1165.5 733.5L1166.1 730.7L1166.7 727.9L1167.2 725.1L1167.8 722.3L1168.3 719.5L1168.9 716.8L1169.5 714.0L1170.0 711.2L1170.6 708.4L1171.1 705.6L1171.7 702.8L1172.3 700.0L1172.9 697.1L1173.5 694.2L1174.1 691.3L1174.7 688.4L1175.3 685.4L1175.9 682.5L1176.5 679.5L1177.1 676.6L1177.7 673.7L1178.4 670.8L1179.0 667.8L1179.6 664.9L1180.3 661.9L1180.9 658.9L1181.5 655.9L1182.2 652.9L1182.8 649.9L1183.5 647.0L1184.2 644.0L1184.8 641.0L1185.5 638.0L1186.2 635.1L1186.9 632.1L1187.6 629.1L1188.3 626.1L1189.0 623.2L1189.7 620.2L1190.4 617.3L1191.1 614.3L1191.8 611.3L1192.5 608.3L1193.3 605.3L1194.0 602.4L1194.8 599.4L1195.5 596.5L1196.3 593.5L1197.1 590.5L1197.9 587.5L1198.6 584.5L1199.4 581.5L1200.2 578.6L1201.1 575.6L1201.9 572.7L1202.7 569.7L1203.6 566.8L1204.4 563.8L1205.3 560.7L1206.2 557.7L1207.1 554.6L1208.0 551.6L1208.9 548.6L1209.8 545.7L1210.7 542.8L1211.6 540.0L1212.5 537.2L1213.4 534.4L1214.3 531.7L1215.1 529.0L1216.0 526.4L1216.9 523.8L1217.8 521.2L1218.7 518.6L1219.7 515.9L1220.6 513.2L1221.6 510.6L1222.6 508.0L1223.5 505.4L1224.5 502.7L1225.6 500.0L1226.5 497.8L1227.4 495.5L1228.3 493.2L1229.3 490.9L1230.3 488.5L1231.2 486.1L1232.2 483.8L1233.2 481.6L1234.1 479.4L1235.0 477.4L1235.9 475.2L1236.8 473.1L1237.7 471.2L1238.6 469.3L1239.4 467.5L1240.3 465.6L1241.2 463.7L1242.2 461.7L1243.1 459.8L1244.0 457.8L1245.0 455.9L1246.0 454.1L1247.0 452.1L1248.0 450.1L1248.9 448.4L1249.8 446.6L1250.8 444.9L1251.7 443.0L1252.7 441.1L1253.7 439.3L1254.7 437.4L1255.7 435.6L1256.6 433.9L1257.6 432.2L1258.5 430.6L1259.4 429.0L1260.3 427.5L1261.2 426.1L1262.1 424.6L1263.0 423.2L1263.9 421.7L1264.8 420.2L1265.7 418.7L1266.6 417.1L1267.6 415.5L1268.5 414.0L1269.5 412.4L1270.5 410.8L1271.4 409.3L1272.4 407.9L1273.4 406.4L1274.4 405.0L1275.3 403.6L1276.3 402.3L1277.2 400.9L1278.1 399.5L1279.1 398.1L1280.0 396.7L1280.9 395.3L1281.9 393.8L1282.9 392.4L1283.8 391.1L1284.7 389.9L1285.7 388.7L1286.6 387.4L1287.5 386.1L1288.4 384.9L1289.3 383.6L1290.3 382.4L1291.2 381.2L1292.2 380.0L1293.1 378.7L1294.1 377.5L1295.0 376.2L1296.1 374.9L1297.1 373.6L1298.1 372.2L1299.2 370.9L1300.2 369.5L1301.3 368.1L1302.3 366.9L1303.2 365.8L1304.1 364.7L1305.0 363.7L1305.9 362.6L1306.8 361.7L1307.6 360.7L1308.4 359.8L1309.3 358.9L1310.2 357.9L1311.0 357.1L1311.9 356.2L1312.8 355.2L1313.8 354.1L1314.7 353.1L1315.6 352.0L1316.6 350.9L1317.5 349.8L1318.5 348.6L1319.4 347.5L1320.4 346.3L1321.4 345.2L1322.3 344.1L1323.3 343.1L1324.3 342.1L1325.3 341.1L1326.2 340.2L1327.2 339.2L1328.2 338.2L1329.2 337.3L1330.2 336.3L1331.2 335.4L1332.2 334.7L1333.1 333.9L1334.1 333.2L1335.1 332.5L1336.1 331.8L1337.1 331.1L1338.0 330.4L1339.0 329.6L1340.0 328.7L1340.9 327.8L1341.8 326.8L1342.7 325.9L1343.5 325.0L1344.4 323.7L1345.1 322.4L1345.9 321.2L1346.9 320.1L1347.6 319.5L1348.5 318.9L1349.4 318.5L1350.3 318.2L1351.3 317.8L1352.2 317.4L1353.1 316.8L1354.1 316.1L1355.2 315.3L1356.2 314.5L1357.2 313.8L1358.2 313.0L1359.2 312.2L1360.0 311.3L1361.1 310.0L1362.0 308.6L1362.8 307.2L1363.7 305.8"/>
</g>
<g class="ax">
<path d="M154.1 16.0 V1070.3"/>
<path d="M134.1 1050.3 H1438.3"/>
<path d="M144.1 947.1 H154.1"/>
<path d="M134.1 843.8 H154.1"/>
<path d="M144.1 740.6 H154.1"/>
<path d="M134.1 637.4 H154.1"/>
<path d="M144.1 534.1 H154.1"/>
<path d="M134.1 430.9 H154.1"/>
<path d="M144.1 327.7 H154.1"/>
<path d="M134.1 224.5 H154.1"/>
<path d="M144.1 121.2 H154.1"/>
<path d="M134.1 18.0 H154.1"/>
<path d="M234.2 1050.3 V1060.3"/>
<path d="M314.4 1050.3 V1070.3"/>
<path d="M394.5 1050.3 V1060.3"/>
<path d="M474.6 1050.3 V1070.3"/>
<path d="M554.8 1050.3 V1060.3"/>
<path d="M634.9 1050.3 V1070.3"/>
<path d="M715.1 1050.3 V1060.3"/>
<path d="M795.2 1050.3 V1070.3"/>
<path d="M875.3 1050.3 V1060.3"/>
<path d="M955.5 1050.3 V1070.3"/>
<path d="M1035.6 1050.3 V1060.3"/>
<path d="M1115.8 1050.3 V1070.3"/>
<path d="M1195.9 1050.3 V1060.3"/>
<path d="M1276.0 1050.3 V1070.3"/>
<path d="M1356.2 1050.3 V1060.3"/>
<path d="M1436.3 1050.3 V1070.3"/>
</g>
<g class="tk">
<text x="120.4" y="1063.6" text-anchor="end">0.0</text>
<text x="120.4" y="857.1" text-anchor="end">0.2</text>
<text x="120.4" y="650.7" text-anchor="end">0.4</text>
<text x="120.4" y="444.2" text-anchor="end">0.6</text>
<text x="120.4" y="237.8" text-anchor="end">0.8</text>
<text x="120.4" y="31.3" text-anchor="end">1.0</text>
<text x="154.1" y="1118.4" text-anchor="middle">40</text>
<text x="314.4" y="1118.4" text-anchor="middle">45</text>
<text x="474.6" y="1118.4" text-anchor="middle">50</text>
<text x="634.9" y="1118.4" text-anchor="middle">55</text>
<text x="795.2" y="1118.4" text-anchor="middle">60</text>
<text x="955.5" y="1118.4" text-anchor="middle">65</text>
<text x="1115.8" y="1118.4" text-anchor="middle">70</text>
<text x="1276.0" y="1118.4" text-anchor="middle">75</text>
<text x="1436.3" y="1118.4" text-anchor="middle">80</text>
</g>
<text class="ti" x="795.5" y="1183.1" text-anchor="middle">Angle (degree)</text>
<text class="ti" transform="translate(41.8 534.2) rotate(-90)" text-anchor="middle">Intensity (a.u)</text>
<rect x="235.0" y="486.4" width="368.6" height="278.3" fill="#fff" stroke="#222" stroke-width="1.4"/>
<g class="ln">
<path stroke="#4f4f4f" d="M241.6 524.4 H364.6"/>
<path stroke="#ee3338" d="M241.6 592.0 H364.6"/>
<path stroke="#1764dc" d="M241.6 659.6 H364.6"/>
<path stroke="#30a762" d="M241.6 727.2 H364.6"/>
</g>
<g class="lg">
<text x="378.0" y="542.7">Bare gold</text>
<text x="378.6" y="610.4">WCA 40°</text>
<text x="378.6" y="678.0">WCA 50°</text>
<text x="378.6" y="745.4">WCA 60°</text>
</g>
</svg>
</body></html>
